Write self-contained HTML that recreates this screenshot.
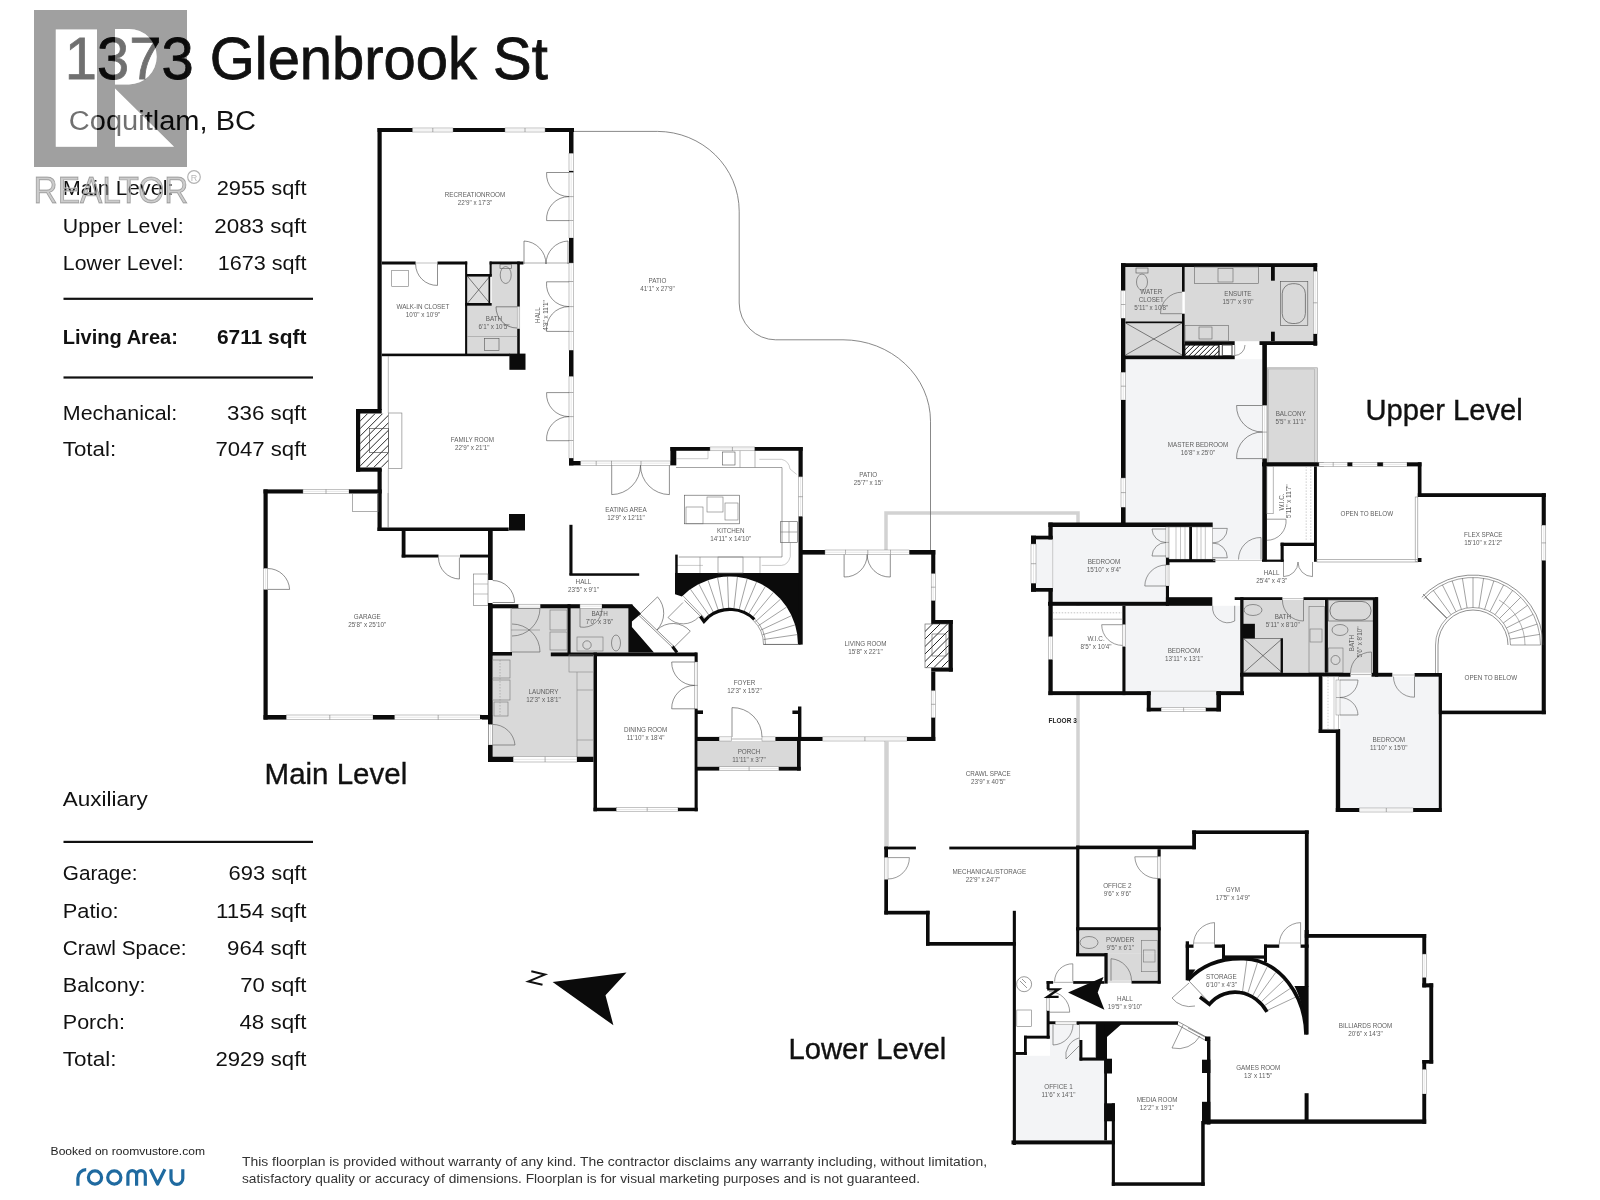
<!DOCTYPE html>
<html><head><meta charset="utf-8"><style>
html,body{margin:0;padding:0;background:#fff;width:1600px;height:1200px;overflow:hidden}
svg{display:block;will-change:transform} text{font-family:'Liberation Sans',sans-serif}
</style></head><body>
<svg width="1600" height="1200" viewBox="0 0 1600 1200">
<rect width="1600" height="1200" fill="#fff"/>
<path d="M886,846 V513 H1078 V846" fill="none" stroke="#d2d2d2" stroke-width="3.5"/>
<path d="M574,131.4 H657.5 A82,80 0 0 1 739.2,211.2 V303 A36.6,36.8 0 0 0 775.6,339.8 H843 A87.5,81.4 0 0 1 930.5,421.2 V551" stroke="#6a6a6a" stroke-width="0.8" fill="none"/>
<rect x="801.0" y="554.0" width="131.0" height="183.0" fill="#fff"/>
<path d="M675,573.1 H800.6 V644.5 H798 A68,68 0 0 0 681.9,596.4 L675,594.2 Z" fill="#0b0b0b"/>
<rect x="377.5" y="128.0" width="196.5" height="4.0" fill="#0b0b0b"/>
<rect x="412.5" y="128.0" width="40.5" height="4.0" fill="#fff" stroke="#7a7a7a" stroke-width="0.45"/>
<line x1="412.5" y1="130.0" x2="453.0" y2="130.0" stroke="#c4c4c4" stroke-width="0.4"/>
<line x1="432.8" y1="128.0" x2="432.8" y2="132.0" stroke="#666" stroke-width="0.5"/>
<rect x="505.0" y="128.0" width="40.0" height="4.0" fill="#fff" stroke="#7a7a7a" stroke-width="0.45"/>
<line x1="505.0" y1="130.0" x2="545.0" y2="130.0" stroke="#c4c4c4" stroke-width="0.4"/>
<line x1="525.0" y1="128.0" x2="525.0" y2="132.0" stroke="#666" stroke-width="0.5"/>
<rect x="377.5" y="128.0" width="4.2" height="282.0" fill="#0b0b0b"/>
<rect x="377.5" y="469.0" width="4.2" height="62.0" fill="#0b0b0b"/>
<rect x="569.0" y="128.0" width="4.5" height="25.5" fill="#0b0b0b"/>
<rect x="569.0" y="153.5" width="4.5" height="17.5" fill="#fff" stroke="#7a7a7a" stroke-width="0.45"/>
<line x1="571.2" y1="153.5" x2="571.2" y2="171.0" stroke="#c4c4c4" stroke-width="0.4"/>
<rect x="569.0" y="171.0" width="4.5" height="1.5" fill="#0b0b0b"/>
<rect x="569.0" y="172.5" width="4.5" height="48.1" fill="#fff" stroke="#7a7a7a" stroke-width="0.45"/>
<line x1="571.2" y1="172.5" x2="571.2" y2="220.6" stroke="#c4c4c4" stroke-width="0.4"/>
<line x1="569.0" y1="196.6" x2="573.5" y2="196.6" stroke="#666" stroke-width="0.5"/>
<rect x="569.0" y="220.6" width="4.5" height="17.4" fill="#fff" stroke="#7a7a7a" stroke-width="0.45"/>
<line x1="571.2" y1="220.6" x2="571.2" y2="238.0" stroke="#c4c4c4" stroke-width="0.4"/>
<rect x="569.0" y="238.0" width="4.5" height="25.0" fill="#0b0b0b"/>
<rect x="569.0" y="263.0" width="4.5" height="18.8" fill="#fff" stroke="#7a7a7a" stroke-width="0.45"/>
<line x1="571.2" y1="263.0" x2="571.2" y2="281.8" stroke="#c4c4c4" stroke-width="0.4"/>
<rect x="569.0" y="281.8" width="4.5" height="49.6" fill="#fff" stroke="#7a7a7a" stroke-width="0.45"/>
<line x1="571.2" y1="281.8" x2="571.2" y2="331.4" stroke="#c4c4c4" stroke-width="0.4"/>
<line x1="569.0" y1="306.6" x2="573.5" y2="306.6" stroke="#666" stroke-width="0.5"/>
<rect x="569.0" y="331.4" width="4.5" height="18.9" fill="#fff" stroke="#7a7a7a" stroke-width="0.45"/>
<line x1="571.2" y1="331.4" x2="571.2" y2="350.3" stroke="#c4c4c4" stroke-width="0.4"/>
<rect x="569.0" y="350.3" width="4.5" height="26.3" fill="#0b0b0b"/>
<rect x="569.0" y="376.6" width="4.5" height="16.0" fill="#fff" stroke="#7a7a7a" stroke-width="0.45"/>
<line x1="571.2" y1="376.6" x2="571.2" y2="392.6" stroke="#c4c4c4" stroke-width="0.4"/>
<rect x="569.0" y="392.6" width="4.5" height="48.1" fill="#fff" stroke="#7a7a7a" stroke-width="0.45"/>
<line x1="571.2" y1="392.6" x2="571.2" y2="440.7" stroke="#c4c4c4" stroke-width="0.4"/>
<line x1="569.0" y1="416.6" x2="573.5" y2="416.6" stroke="#666" stroke-width="0.5"/>
<rect x="569.0" y="440.7" width="4.5" height="17.5" fill="#fff" stroke="#7a7a7a" stroke-width="0.45"/>
<line x1="571.2" y1="440.7" x2="571.2" y2="458.2" stroke="#c4c4c4" stroke-width="0.4"/>
<rect x="569.0" y="458.2" width="4.5" height="7.2" fill="#0b0b0b"/>
<path d="M569.0,172.5 L546.6,172.5 A22.4,22.4 0 0 0 569.0,196.6" stroke="#444" stroke-width="0.6" fill="none"/>
<path d="M569.0,220.6 L546.6,220.6 A22.4,22.4 0 0 1 569.0,196.6" stroke="#444" stroke-width="0.6" fill="none"/>
<path d="M569.0,281.8 L546.6,281.8 A22.4,22.4 0 0 0 569.0,306.6" stroke="#444" stroke-width="0.6" fill="none"/>
<path d="M569.0,331.4 L546.6,331.4 A22.4,22.4 0 0 1 569.0,306.6" stroke="#444" stroke-width="0.6" fill="none"/>
<path d="M569.0,392.6 L546.6,392.6 A22.4,22.4 0 0 0 569.0,416.6" stroke="#444" stroke-width="0.6" fill="none"/>
<path d="M569.0,440.7 L546.6,440.7 A22.4,22.4 0 0 1 569.0,416.6" stroke="#444" stroke-width="0.6" fill="none"/>
<rect x="381.8" y="261.5" width="33.8" height="3.0" fill="#0b0b0b"/>
<line x1="415.6" y1="263.0" x2="437.5" y2="263.0" stroke="#999" stroke-width="0.6"/>
<rect x="437.5" y="261.5" width="29.7" height="3.0" fill="#0b0b0b"/>
<rect x="489.6" y="261.5" width="33.8" height="3.0" fill="#0b0b0b"/>
<line x1="523.4" y1="263.0" x2="569.0" y2="263.0" stroke="#777" stroke-width="0.6"/>
<path d="M524.0,264.0 L524.0,241.0 A23.0,23.0 0 0 1 546.0,264.0" stroke="#444" stroke-width="0.6" fill="none"/>
<path d="M568.0,264.0 L568.0,241.0 A23.0,23.0 0 0 0 546.0,264.0" stroke="#444" stroke-width="0.6" fill="none"/>
<rect x="391.7" y="270.3" width="16.8" height="16.4" fill="none" stroke="#777" stroke-width="0.6"/>
<path d="M437.5,264.0 L437.5,285.4 A21.4,21.4 0 0 1 415.6,264.0" stroke="#444" stroke-width="0.6" fill="none"/>
<rect x="491.7" y="264.5" width="25.5" height="89.1" fill="#d9d9d9"/>
<rect x="467.2" y="305.7" width="50.0" height="47.9" fill="#d9d9d9"/>
<rect x="467.2" y="276.6" width="22.4" height="26.4" fill="#dedede"/>
<line x1="467.7" y1="276.6" x2="489.6" y2="303.0" stroke="#333" stroke-width="0.6"/>
<line x1="489.6" y1="276.6" x2="467.7" y2="303.0" stroke="#333" stroke-width="0.6"/>
<rect x="465.1" y="261.5" width="2.1" height="92.5" fill="#0b0b0b"/>
<rect x="467.0" y="274.0" width="24.7" height="2.6" fill="#0b0b0b"/>
<rect x="489.6" y="261.5" width="2.1" height="15.1" fill="#0b0b0b"/>
<rect x="488.5" y="276.0" width="1.7" height="29.0" fill="#0b0b0b"/>
<rect x="465.0" y="303.0" width="26.7" height="2.7" fill="#0b0b0b"/>
<rect x="517.2" y="261.5" width="2.6" height="45.3" fill="#0b0b0b"/>
<rect x="517.2" y="328.6" width="2.6" height="25.4" fill="#0b0b0b"/>
<rect x="517.2" y="306.8" width="2.6" height="21.8" fill="#fff" stroke="#7a7a7a" stroke-width="0.45"/>
<line x1="518.5" y1="306.8" x2="518.5" y2="328.6" stroke="#c4c4c4" stroke-width="0.4"/>
<path d="M517.0,306.8 L496.0,306.8 A21.0,21.0 0 0 0 517.0,328.0" stroke="#444" stroke-width="0.6" fill="none"/>
<ellipse cx="505.7" cy="275" rx="5.5" ry="8.5" fill="none" stroke="#555" stroke-width="0.6"/>
<rect x="500.0" y="264.5" width="11.5" height="4.0" fill="none" stroke="#555" stroke-width="0.6"/>
<line x1="467.2" y1="336.5" x2="517.2" y2="336.5" stroke="#999" stroke-width="0.6"/>
<rect x="484.4" y="338.5" width="14.6" height="12.0" fill="none" stroke="#555" stroke-width="0.6"/>
<rect x="381.8" y="353.6" width="128.1" height="2.6" fill="#0b0b0b"/>
<rect x="509.4" y="353.6" width="16.1" height="16.2" fill="#0b0b0b"/>
<text x="540.3" y="315.0" font-size="6.3" fill="#5e5e5e" text-anchor="middle" font-weight="normal" transform="rotate(-90 540.3 315.0)">HALL</text>
<text x="548.2" y="315.5" font-size="6.3" fill="#5e5e5e" text-anchor="middle" font-weight="normal" transform="rotate(-90 548.2 315.5)">4'9&quot; x 11'1&quot;</text>
<rect x="356.0" y="409.0" width="25.7" height="4.5" fill="#0b0b0b"/>
<rect x="356.0" y="409.0" width="4.2" height="62.7" fill="#0b0b0b"/>
<rect x="356.0" y="467.5" width="25.7" height="4.2" fill="#0b0b0b"/>
<clipPath id="c80"><rect x="360.2" y="413.5" width="28.30000000000001" height="54.0"/></clipPath><g clip-path="url(#c80)">
<line x1="306.2" y1="467.5" x2="360.2" y2="413.5" stroke="#111" stroke-width="0.9"/>
<line x1="313.7" y1="467.5" x2="367.7" y2="413.5" stroke="#111" stroke-width="0.9"/>
<line x1="321.2" y1="467.5" x2="375.2" y2="413.5" stroke="#111" stroke-width="0.9"/>
<line x1="328.7" y1="467.5" x2="382.7" y2="413.5" stroke="#111" stroke-width="0.9"/>
<line x1="336.2" y1="467.5" x2="390.2" y2="413.5" stroke="#111" stroke-width="0.9"/>
<line x1="343.7" y1="467.5" x2="397.7" y2="413.5" stroke="#111" stroke-width="0.9"/>
<line x1="351.2" y1="467.5" x2="405.2" y2="413.5" stroke="#111" stroke-width="0.9"/>
<line x1="358.7" y1="467.5" x2="412.7" y2="413.5" stroke="#111" stroke-width="0.9"/>
<line x1="366.2" y1="467.5" x2="420.2" y2="413.5" stroke="#111" stroke-width="0.9"/>
<line x1="373.7" y1="467.5" x2="427.7" y2="413.5" stroke="#111" stroke-width="0.9"/>
<line x1="381.2" y1="467.5" x2="435.2" y2="413.5" stroke="#111" stroke-width="0.9"/>
</g>
<rect x="388.5" y="413.0" width="13.4" height="55.5" fill="none" stroke="#777" stroke-width="0.6"/>
<rect x="369.6" y="428.5" width="18.9" height="24.0" fill="none" stroke="#333" stroke-width="0.6"/>
<line x1="388.3" y1="356.0" x2="388.3" y2="413.0" stroke="#888" stroke-width="0.6"/>
<line x1="388.3" y1="468.5" x2="388.3" y2="527.5" stroke="#888" stroke-width="0.6"/>
<rect x="377.5" y="527.5" width="131.2" height="3.5" fill="#0b0b0b"/>
<rect x="509.0" y="514.0" width="16.0" height="16.5" fill="#0b0b0b"/>
<rect x="569.0" y="461.0" width="11.8" height="4.4" fill="#0b0b0b"/>
<rect x="580.8" y="461.0" width="30.9" height="4.4" fill="#fff" stroke="#7a7a7a" stroke-width="0.45"/>
<line x1="580.8" y1="463.2" x2="611.7" y2="463.2" stroke="#c4c4c4" stroke-width="0.4"/>
<line x1="596.2" y1="461.0" x2="596.2" y2="465.4" stroke="#666" stroke-width="0.5"/>
<rect x="611.7" y="461.0" width="58.7" height="4.4" fill="#fff" stroke="#7a7a7a" stroke-width="0.45"/>
<line x1="611.7" y1="463.2" x2="670.4" y2="463.2" stroke="#c4c4c4" stroke-width="0.4"/>
<line x1="641.0" y1="461.0" x2="641.0" y2="465.4" stroke="#666" stroke-width="0.5"/>
<path d="M611.7,465.4 L611.7,494.6 A29.2,29.2 0 0 0 640.5,465.4" stroke="#444" stroke-width="0.6" fill="none"/>
<path d="M669.4,465.4 L669.4,494.6 A29.2,29.2 0 0 1 640.5,465.4" stroke="#444" stroke-width="0.6" fill="none"/>
<rect x="569.4" y="524.8" width="3.1" height="50.0" fill="#0b0b0b"/>
<rect x="569.4" y="573.3" width="69.8" height="2.5" fill="#0b0b0b"/>
<rect x="263.5" y="489.4" width="39.5" height="4.1" fill="#0b0b0b"/>
<rect x="303.0" y="489.4" width="46.0" height="4.1" fill="#fff" stroke="#7a7a7a" stroke-width="0.45"/>
<line x1="303.0" y1="491.4" x2="349.0" y2="491.4" stroke="#c4c4c4" stroke-width="0.4"/>
<line x1="326.0" y1="489.4" x2="326.0" y2="493.5" stroke="#666" stroke-width="0.5"/>
<rect x="349.0" y="489.4" width="32.7" height="4.1" fill="#0b0b0b"/>
<rect x="352.7" y="493.5" width="25.3" height="18.2" fill="none" stroke="#777" stroke-width="0.6"/>
<line x1="388.0" y1="493.0" x2="388.0" y2="527.5" stroke="#888" stroke-width="0.6"/>
<rect x="263.5" y="489.4" width="4.2" height="79.1" fill="#0b0b0b"/>
<rect x="263.5" y="589.4" width="4.2" height="130.2" fill="#0b0b0b"/>
<rect x="263.5" y="568.5" width="4.2" height="20.9" fill="#fff" stroke="#7a7a7a" stroke-width="0.45"/>
<line x1="265.6" y1="568.5" x2="265.6" y2="589.4" stroke="#c4c4c4" stroke-width="0.4"/>
<path d="M267.7,589.4 L289.6,589.4 A21.9,21.9 0 0 0 267.7,568.5" stroke="#444" stroke-width="0.6" fill="none"/>
<rect x="263.5" y="715.0" width="23.0" height="4.6" fill="#0b0b0b"/>
<rect x="286.5" y="715.0" width="86.5" height="4.6" fill="#fff" stroke="#7a7a7a" stroke-width="0.45"/>
<line x1="286.5" y1="717.3" x2="373.0" y2="717.3" stroke="#c4c4c4" stroke-width="0.4"/>
<line x1="329.8" y1="715.0" x2="329.8" y2="719.6" stroke="#666" stroke-width="0.5"/>
<rect x="373.0" y="715.0" width="21.8" height="4.6" fill="#0b0b0b"/>
<rect x="394.8" y="715.0" width="86.9" height="4.6" fill="#fff" stroke="#7a7a7a" stroke-width="0.45"/>
<line x1="394.8" y1="717.3" x2="481.7" y2="717.3" stroke="#c4c4c4" stroke-width="0.4"/>
<line x1="438.2" y1="715.0" x2="438.2" y2="719.6" stroke="#666" stroke-width="0.5"/>
<rect x="481.7" y="715.0" width="10.8" height="4.6" fill="#0b0b0b"/>
<rect x="401.7" y="531.0" width="3.8" height="26.5" fill="#0b0b0b"/>
<rect x="401.7" y="554.6" width="36.8" height="2.9" fill="#0b0b0b"/>
<rect x="460.0" y="554.6" width="28.5" height="2.9" fill="#0b0b0b"/>
<line x1="438.5" y1="556.0" x2="460.0" y2="556.0" stroke="#999" stroke-width="0.6"/>
<path d="M459.4,557.5 L459.4,579.0 A21.5,21.5 0 0 1 438.5,557.5" stroke="#444" stroke-width="0.6" fill="none"/>
<rect x="488.0" y="531.0" width="4.7" height="49.0" fill="#0b0b0b"/>
<rect x="473.5" y="574.0" width="14.5" height="31.6" fill="none" stroke="#777" stroke-width="0.6"/>
<line x1="473.5" y1="584.0" x2="488.0" y2="584.0" stroke="#999" stroke-width="0.6"/>
<line x1="473.5" y1="594.0" x2="488.0" y2="594.0" stroke="#999" stroke-width="0.6"/>
<path d="M492.7,602.5 L514.5,602.5 A21.8,21.8 0 0 0 492.7,580.5" stroke="#444" stroke-width="0.6" fill="none"/>
<rect x="488.0" y="603.0" width="4.5" height="159.0" fill="#0b0b0b"/>
<rect x="511.0" y="608.3" width="82.5" height="148.4" fill="#d9d9d9"/>
<rect x="492.5" y="655.6" width="18.5" height="101.1" fill="#d9d9d9"/>
<rect x="570.6" y="608.3" width="58.4" height="44.2" fill="#d9d9d9"/>
<rect x="488.3" y="604.2" width="30.2" height="4.1" fill="#0b0b0b"/>
<rect x="518.5" y="604.2" width="21.9" height="4.1" fill="#fff" stroke="#7a7a7a" stroke-width="0.45"/>
<line x1="518.5" y1="606.2" x2="540.4" y2="606.2" stroke="#c4c4c4" stroke-width="0.4"/>
<rect x="540.4" y="604.2" width="39.6" height="4.1" fill="#0b0b0b"/>
<rect x="580.0" y="604.2" width="22.0" height="4.1" fill="#fff" stroke="#7a7a7a" stroke-width="0.45"/>
<line x1="580.0" y1="606.2" x2="602.0" y2="606.2" stroke="#c4c4c4" stroke-width="0.4"/>
<rect x="602.0" y="604.2" width="30.5" height="4.1" fill="#0b0b0b"/>
<rect x="488.3" y="604.2" width="4.2" height="120.2" fill="#0b0b0b"/>
<rect x="488.3" y="724.4" width="4.2" height="20.6" fill="#fff" stroke="#7a7a7a" stroke-width="0.45"/>
<line x1="490.4" y1="724.4" x2="490.4" y2="745.0" stroke="#c4c4c4" stroke-width="0.4"/>
<rect x="488.3" y="745.0" width="4.2" height="17.0" fill="#0b0b0b"/>
<rect x="480.0" y="715.0" width="8.3" height="4.0" fill="#0b0b0b"/>
<rect x="488.0" y="652.0" width="24.0" height="3.6" fill="#0b0b0b"/>
<line x1="511.0" y1="608.3" x2="511.0" y2="652.0" stroke="#777" stroke-width="0.6"/>
<rect x="567.5" y="604.2" width="3.1" height="50.8" fill="#0b0b0b"/>
<rect x="550.8" y="652.5" width="145.9" height="3.8" fill="#0b0b0b"/>
<rect x="488.3" y="756.7" width="25.0" height="5.3" fill="#0b0b0b"/>
<rect x="513.3" y="756.7" width="63.7" height="5.3" fill="#fff" stroke="#7a7a7a" stroke-width="0.45"/>
<line x1="513.3" y1="759.4" x2="577.0" y2="759.4" stroke="#c4c4c4" stroke-width="0.4"/>
<line x1="545.1" y1="756.7" x2="545.1" y2="762.0" stroke="#666" stroke-width="0.5"/>
<rect x="577.0" y="756.7" width="16.5" height="5.3" fill="#0b0b0b"/>
<rect x="593.5" y="652.5" width="3.5" height="158.8" fill="#0b0b0b"/>
<polygon points="628.4,605.0 632.5,605.0 641.0,613.7 631.9,621.5 631.9,627.0 654.0,652.6 628.4,652.6" fill="#0b0b0b"/>
<line x1="638.5" y1="615.0" x2="673.0" y2="648.0" stroke="#444" stroke-width="0.6"/>
<line x1="639.7" y1="613.7" x2="674.2" y2="646.7" stroke="#444" stroke-width="0.6"/>
<line x1="672.5" y1="646.5" x2="677.0" y2="652.5" stroke="#0b0b0b" stroke-width="3"/>
<rect x="550.0" y="610.0" width="17.0" height="20.0" fill="none" stroke="#777" stroke-width="0.6"/>
<rect x="550.0" y="632.0" width="17.0" height="18.0" fill="none" stroke="#777" stroke-width="0.6"/>
<line x1="511.0" y1="630.0" x2="540.0" y2="630.0" stroke="#888" stroke-width="0.6"/>
<path d="M512.0,608.3 L540.0,608.3 A28.0,28.0 0 0 1 512.0,636.0" stroke="#555" stroke-width="0.6" fill="none"/>
<path d="M512.0,652.0 L540.0,652.0 A28.0,28.0 0 0 0 512.0,624.0" stroke="#555" stroke-width="0.6" fill="none"/>
<rect x="492.5" y="660.0" width="17.5" height="18.0" fill="none" stroke="#777" stroke-width="0.6"/>
<rect x="492.5" y="680.0" width="17.5" height="20.0" fill="none" stroke="#777" stroke-width="0.6"/>
<rect x="494.0" y="702.0" width="14.0" height="14.0" fill="none" stroke="#777" stroke-width="0.6"/>
<line x1="500.0" y1="660.0" x2="500.0" y2="715.0" stroke="#888" stroke-width="0.5" stroke-dasharray="1.5,1.5"/>
<path d="M492.5,745.0 L515.0,745.0 A22.5,22.5 0 0 0 492.5,724.4" stroke="#555" stroke-width="0.6" fill="none"/>
<rect x="569.0" y="655.0" width="24.5" height="17.0" fill="none" stroke="#888" stroke-width="0.6"/>
<line x1="577.0" y1="672.0" x2="577.0" y2="756.7" stroke="#888" stroke-width="0.6"/>
<line x1="577.0" y1="690.0" x2="593.5" y2="690.0" stroke="#888" stroke-width="0.6"/>
<line x1="577.0" y1="740.0" x2="593.5" y2="740.0" stroke="#888" stroke-width="0.6"/>
<rect x="577.0" y="637.0" width="26.0" height="14.0" fill="none" stroke="#777" stroke-width="0.6"/>
<circle cx="587" cy="645" r="4.2" fill="none" stroke="#555" stroke-width="0.6"/>
<ellipse cx="616" cy="643" rx="4.5" ry="8" fill="none" stroke="#555" stroke-width="0.6"/>
<path d="M580.0,608.3 L580.0,627.0 A18.7,18.7 0 0 0 602.0,608.3" stroke="#555" stroke-width="0.6" fill="none"/>
<rect x="593.5" y="807.7" width="23.0" height="3.5" fill="#0b0b0b"/>
<rect x="616.5" y="807.7" width="61.5" height="3.5" fill="#fff" stroke="#7a7a7a" stroke-width="0.45"/>
<line x1="616.5" y1="809.5" x2="678.0" y2="809.5" stroke="#c4c4c4" stroke-width="0.4"/>
<line x1="647.2" y1="807.7" x2="647.2" y2="811.2" stroke="#666" stroke-width="0.5"/>
<rect x="678.0" y="807.7" width="19.7" height="3.5" fill="#0b0b0b"/>
<rect x="694.6" y="652.5" width="3.1" height="9.5" fill="#0b0b0b"/>
<rect x="694.6" y="662.0" width="3.1" height="46.8" fill="#fff" stroke="#7a7a7a" stroke-width="0.45"/>
<line x1="696.2" y1="662.0" x2="696.2" y2="708.8" stroke="#c4c4c4" stroke-width="0.4"/>
<line x1="694.6" y1="685.4" x2="697.7" y2="685.4" stroke="#666" stroke-width="0.5"/>
<rect x="694.6" y="708.8" width="3.1" height="102.5" fill="#0b0b0b"/>
<rect x="697.0" y="710.4" width="6.0" height="3.6" fill="#0b0b0b"/>
<path d="M694.6,662.0 L671.7,662.0 A22.9,22.9 0 0 0 694.6,685.4" stroke="#444" stroke-width="0.6" fill="none"/>
<path d="M694.6,708.8 L671.7,708.8 A22.9,22.9 0 0 1 694.6,685.4" stroke="#444" stroke-width="0.6" fill="none"/>
<rect x="670.4" y="447.0" width="5.9" height="18.4" fill="#0b0b0b"/>
<rect x="670.4" y="447.0" width="39.6" height="3.8" fill="#0b0b0b"/>
<rect x="710.0" y="447.0" width="44.8" height="3.8" fill="#fff" stroke="#7a7a7a" stroke-width="0.45"/>
<line x1="710.0" y1="448.9" x2="754.8" y2="448.9" stroke="#c4c4c4" stroke-width="0.4"/>
<line x1="732.4" y1="447.0" x2="732.4" y2="450.8" stroke="#666" stroke-width="0.5"/>
<rect x="754.8" y="447.0" width="47.9" height="3.8" fill="#0b0b0b"/>
<rect x="798.5" y="447.0" width="4.2" height="29.9" fill="#0b0b0b"/>
<rect x="798.5" y="476.9" width="4.2" height="39.6" fill="#fff" stroke="#7a7a7a" stroke-width="0.45"/>
<line x1="800.6" y1="476.9" x2="800.6" y2="516.5" stroke="#c4c4c4" stroke-width="0.4"/>
<line x1="798.5" y1="496.7" x2="802.7" y2="496.7" stroke="#666" stroke-width="0.5"/>
<rect x="798.5" y="516.5" width="4.2" height="128.1" fill="#0b0b0b"/>
<line x1="676.0" y1="467.5" x2="782.0" y2="467.5" stroke="#666" stroke-width="0.6"/>
<line x1="782.0" y1="467.5" x2="782.0" y2="557.0" stroke="#666" stroke-width="0.6"/>
<line x1="678.8" y1="557.0" x2="782.0" y2="557.0" stroke="#666" stroke-width="0.6"/>
<path d="M676,458.7 H708 V451" stroke="#999" stroke-width="0.5" fill="none"/>
<path d="M759.3,459.3 H781.5 Q789,461 790,469 L796.7,474.4" stroke="#999" stroke-width="0.5" fill="none"/>
<path d="M790.3,542.7 V556.7 Q788,565 781.5,565.4 H761.7" stroke="#999" stroke-width="0.5" fill="none"/>
<path d="M677,565.4 H703" stroke="#999" stroke-width="0.5" fill="none"/>
<rect x="722.5" y="452.0" width="12.5" height="13.0" fill="none" stroke="#555" stroke-width="0.6"/>
<line x1="740.0" y1="450.8" x2="740.0" y2="467.5" stroke="#888" stroke-width="0.6"/>
<line x1="755.0" y1="450.8" x2="755.0" y2="467.5" stroke="#888" stroke-width="0.6"/>
<rect x="684.4" y="495.2" width="55.2" height="28.6" fill="none" stroke="#555" stroke-width="0.6"/>
<rect x="686.0" y="507.0" width="17.0" height="16.8" fill="none" stroke="#777" stroke-width="0.6"/>
<rect x="707.0" y="497.0" width="16.0" height="15.0" fill="none" stroke="#777" stroke-width="0.6"/>
<rect x="725.0" y="503.0" width="13.0" height="17.0" fill="none" stroke="#777" stroke-width="0.6"/>
<rect x="780.4" y="521.7" width="17.1" height="20.8" fill="none" stroke="#555" stroke-width="0.6"/>
<line x1="780.4" y1="532.0" x2="797.5" y2="532.0" stroke="#777" stroke-width="0.6"/>
<line x1="789.0" y1="521.7" x2="789.0" y2="542.5" stroke="#777" stroke-width="0.6"/>
<rect x="718.0" y="557.0" width="25.0" height="16.0" fill="none" stroke="#777" stroke-width="0.6"/>
<line x1="700.0" y1="557.0" x2="700.0" y2="573.0" stroke="#888" stroke-width="0.6"/>
<line x1="760.0" y1="557.0" x2="760.0" y2="573.0" stroke="#888" stroke-width="0.6"/>
<rect x="675.2" y="554.6" width="2.5" height="19.1" fill="#0b0b0b"/>
<line x1="706.4" y1="620.0" x2="682.8" y2="595.6" stroke="#444" stroke-width="0.5"/>
<line x1="710.2" y1="616.9" x2="690.4" y2="589.2" stroke="#444" stroke-width="0.5"/>
<line x1="714.4" y1="614.3" x2="698.9" y2="584.0" stroke="#444" stroke-width="0.5"/>
<line x1="719.0" y1="612.3" x2="708.0" y2="580.2" stroke="#444" stroke-width="0.5"/>
<line x1="723.8" y1="611.1" x2="717.6" y2="577.6" stroke="#444" stroke-width="0.5"/>
<line x1="728.7" y1="610.5" x2="727.5" y2="576.5" stroke="#444" stroke-width="0.5"/>
<line x1="733.7" y1="610.7" x2="737.4" y2="576.9" stroke="#444" stroke-width="0.5"/>
<line x1="738.6" y1="611.6" x2="747.2" y2="578.7" stroke="#444" stroke-width="0.5"/>
<line x1="743.3" y1="613.2" x2="756.6" y2="581.9" stroke="#444" stroke-width="0.5"/>
<line x1="747.7" y1="615.5" x2="765.4" y2="586.4" stroke="#444" stroke-width="0.5"/>
<line x1="751.7" y1="618.4" x2="773.5" y2="592.2" stroke="#444" stroke-width="0.5"/>
<line x1="755.3" y1="621.8" x2="780.6" y2="599.1" stroke="#444" stroke-width="0.5"/>
<line x1="758.4" y1="625.7" x2="786.7" y2="607.0" stroke="#444" stroke-width="0.5"/>
<line x1="760.8" y1="630.1" x2="791.6" y2="615.6" stroke="#444" stroke-width="0.5"/>
<line x1="762.6" y1="634.7" x2="795.1" y2="624.9" stroke="#444" stroke-width="0.5"/>
<line x1="763.6" y1="639.5" x2="797.3" y2="634.6" stroke="#444" stroke-width="0.5"/>
<line x1="764.0" y1="644.5" x2="798.0" y2="644.5" stroke="#444" stroke-width="0.5"/>
<path d="M708.9,616.5 A35,35 0 0 1 754.3,619.3" stroke="#0b0b0b" stroke-width="3.2" fill="none"/>
<path d="M753.3,620.4 A33.5,33.5 0 0 1 763.5,644.5" stroke="#444" stroke-width="0.5" fill="none"/>
<path d="M754.7,619.0 A35.5,35.5 0 0 1 765.5,644.5" stroke="#444" stroke-width="0.5" fill="none"/>
<path d="M700.3,616.2 L704,621.4 L708.9,616.4" stroke="#0b0b0b" stroke-width="3.2" fill="none"/>
<line x1="763.0" y1="644.4" x2="798.0" y2="644.4" stroke="#444" stroke-width="0.5"/>
<line x1="684.4" y1="600.3" x2="700.3" y2="616.2" stroke="#444" stroke-width="0.6"/>
<rect x="697.7" y="741.0" width="99.3" height="26.0" fill="#d9d9d9"/>
<rect x="697.0" y="736.9" width="22.2" height="4.1" fill="#0b0b0b"/>
<rect x="719.2" y="736.9" width="12.4" height="4.1" fill="#fff" stroke="#7a7a7a" stroke-width="0.45"/>
<line x1="719.2" y1="739.0" x2="731.6" y2="739.0" stroke="#c4c4c4" stroke-width="0.4"/>
<line x1="731.6" y1="739.0" x2="762.0" y2="739.0" stroke="#888" stroke-width="0.6"/>
<rect x="762.0" y="736.9" width="13.5" height="4.1" fill="#fff" stroke="#7a7a7a" stroke-width="0.45"/>
<line x1="762.0" y1="739.0" x2="775.5" y2="739.0" stroke="#c4c4c4" stroke-width="0.4"/>
<rect x="775.5" y="736.9" width="25.5" height="4.1" fill="#0b0b0b"/>
<rect x="697.0" y="766.8" width="22.2" height="3.8" fill="#0b0b0b"/>
<rect x="719.2" y="766.8" width="59.6" height="3.8" fill="#fff" stroke="#7a7a7a" stroke-width="0.45"/>
<line x1="719.2" y1="768.7" x2="778.9" y2="768.7" stroke="#c4c4c4" stroke-width="0.4"/>
<line x1="749.1" y1="766.8" x2="749.1" y2="770.6" stroke="#666" stroke-width="0.5"/>
<rect x="778.9" y="766.8" width="21.8" height="3.8" fill="#0b0b0b"/>
<rect x="797.0" y="737.0" width="3.7" height="33.6" fill="#0b0b0b"/>
<path d="M732.0,737.0 L732.0,707.6 A29.4,29.4 0 0 1 762.0,737.0" stroke="#444" stroke-width="0.6" fill="none"/>
<rect x="798.0" y="706.5" width="3.4" height="34.5" fill="#0b0b0b"/>
<rect x="792.4" y="710.5" width="5.6" height="3.5" fill="#0b0b0b"/>
<path d="M640.0,613.8 L657.5,596.9 A24.3,24.3 0 0 1 656.9,630.0" stroke="#444" stroke-width="0.6" fill="none"/>
<path d="M673.8,647.5 L690.3,631.2 A23.2,23.2 0 0 0 656.9,630.0" stroke="#444" stroke-width="0.6" fill="none"/>
<path d="M683.0,602.5 L668.0,617.5 A21.2,21.2 0 0 0 698.8,616.9" stroke="#555" stroke-width="0.6" fill="none"/>
<rect x="801.0" y="550.0" width="24.0" height="4.6" fill="#0b0b0b"/>
<rect x="825.0" y="550.0" width="20.3" height="4.6" fill="#fff" stroke="#7a7a7a" stroke-width="0.45"/>
<line x1="825.0" y1="552.3" x2="845.3" y2="552.3" stroke="#c4c4c4" stroke-width="0.4"/>
<rect x="845.3" y="550.0" width="45.0" height="4.6" fill="#fff" stroke="#7a7a7a" stroke-width="0.45"/>
<line x1="845.3" y1="552.3" x2="890.3" y2="552.3" stroke="#c4c4c4" stroke-width="0.4"/>
<line x1="867.8" y1="550.0" x2="867.8" y2="554.6" stroke="#666" stroke-width="0.5"/>
<rect x="890.3" y="550.0" width="19.1" height="4.6" fill="#fff" stroke="#7a7a7a" stroke-width="0.45"/>
<line x1="890.3" y1="552.3" x2="909.4" y2="552.3" stroke="#c4c4c4" stroke-width="0.4"/>
<rect x="909.4" y="550.0" width="25.9" height="4.6" fill="#0b0b0b"/>
<path d="M844.1,554.6 L844.1,577.0 A22.4,22.4 0 0 0 867.2,554.6" stroke="#444" stroke-width="0.6" fill="none"/>
<path d="M890.3,554.6 L890.3,577.0 A22.4,22.4 0 0 1 867.2,554.6" stroke="#444" stroke-width="0.6" fill="none"/>
<rect x="931.2" y="550.0" width="4.1" height="23.8" fill="#0b0b0b"/>
<rect x="931.2" y="573.8" width="4.1" height="27.0" fill="#fff" stroke="#7a7a7a" stroke-width="0.45"/>
<line x1="933.2" y1="573.8" x2="933.2" y2="600.8" stroke="#c4c4c4" stroke-width="0.4"/>
<line x1="931.2" y1="587.2" x2="935.3" y2="587.2" stroke="#666" stroke-width="0.5"/>
<rect x="931.2" y="600.8" width="4.1" height="19.2" fill="#0b0b0b"/>
<rect x="931.2" y="620.0" width="21.6" height="4.0" fill="#0b0b0b"/>
<rect x="948.8" y="620.0" width="4.0" height="51.6" fill="#0b0b0b"/>
<rect x="931.2" y="667.8" width="21.6" height="3.8" fill="#0b0b0b"/>
<clipPath id="c296"><rect x="925" y="624" width="23.799999999999955" height="43.799999999999955"/></clipPath><g clip-path="url(#c296)">
<line x1="881.2" y1="667.8" x2="925.0" y2="624.0" stroke="#111" stroke-width="0.9"/>
<line x1="888.7" y1="667.8" x2="932.5" y2="624.0" stroke="#111" stroke-width="0.9"/>
<line x1="896.2" y1="667.8" x2="940.0" y2="624.0" stroke="#111" stroke-width="0.9"/>
<line x1="903.7" y1="667.8" x2="947.5" y2="624.0" stroke="#111" stroke-width="0.9"/>
<line x1="911.2" y1="667.8" x2="955.0" y2="624.0" stroke="#111" stroke-width="0.9"/>
<line x1="918.7" y1="667.8" x2="962.5" y2="624.0" stroke="#111" stroke-width="0.9"/>
<line x1="926.2" y1="667.8" x2="970.0" y2="624.0" stroke="#111" stroke-width="0.9"/>
<line x1="933.7" y1="667.8" x2="977.5" y2="624.0" stroke="#111" stroke-width="0.9"/>
<line x1="941.2" y1="667.8" x2="985.0" y2="624.0" stroke="#111" stroke-width="0.9"/>
<line x1="948.7" y1="667.8" x2="992.5" y2="624.0" stroke="#111" stroke-width="0.9"/>
</g>
<rect x="925.0" y="624.0" width="23.8" height="43.8" fill="none" stroke="#555" stroke-width="0.6"/>
<rect x="932.0" y="634.0" width="14.0" height="22.0" fill="none" stroke="#555" stroke-width="0.6"/>
<rect x="931.2" y="671.6" width="4.1" height="19.2" fill="#0b0b0b"/>
<rect x="931.2" y="690.8" width="4.1" height="27.0" fill="#fff" stroke="#7a7a7a" stroke-width="0.45"/>
<line x1="933.2" y1="690.8" x2="933.2" y2="717.8" stroke="#c4c4c4" stroke-width="0.4"/>
<line x1="931.2" y1="704.3" x2="935.3" y2="704.3" stroke="#666" stroke-width="0.5"/>
<rect x="931.2" y="717.8" width="4.1" height="23.2" fill="#0b0b0b"/>
<rect x="800.2" y="736.9" width="22.5" height="4.1" fill="#0b0b0b"/>
<rect x="822.8" y="736.9" width="84.2" height="4.1" fill="#fff" stroke="#7a7a7a" stroke-width="0.45"/>
<line x1="822.8" y1="739.0" x2="907.0" y2="739.0" stroke="#c4c4c4" stroke-width="0.4"/>
<line x1="864.9" y1="736.9" x2="864.9" y2="741.0" stroke="#666" stroke-width="0.5"/>
<rect x="907.0" y="736.9" width="28.3" height="4.1" fill="#0b0b0b"/>
<line x1="887.0" y1="741.0" x2="887.0" y2="846.0" stroke="#d2d2d2" stroke-width="3.5"/>
<text x="475.0" y="196.8" font-size="6.3" fill="#5e5e5e" text-anchor="middle" font-weight="normal">RECREATIONROOM</text>
<text x="475.0" y="204.8" font-size="6.3" fill="#5e5e5e" text-anchor="middle" font-weight="normal">22'9&quot; x 17'3&quot;</text>
<text x="422.9" y="309.0" font-size="6.3" fill="#5e5e5e" text-anchor="middle" font-weight="normal">WALK-IN CLOSET</text>
<text x="422.9" y="317.0" font-size="6.3" fill="#5e5e5e" text-anchor="middle" font-weight="normal">10'0&quot; x 10'9&quot;</text>
<text x="494.0" y="320.5" font-size="6.3" fill="#5e5e5e" text-anchor="middle" font-weight="normal">BATH</text>
<text x="494.0" y="328.5" font-size="6.3" fill="#5e5e5e" text-anchor="middle" font-weight="normal">6'1&quot; x 10'5&quot;</text>
<text x="472.3" y="442.0" font-size="6.3" fill="#5e5e5e" text-anchor="middle" font-weight="normal">FAMILY ROOM</text>
<text x="472.3" y="450.0" font-size="6.3" fill="#5e5e5e" text-anchor="middle" font-weight="normal">22'9&quot; x 21'1&quot;</text>
<text x="367.3" y="618.5" font-size="6.3" fill="#5e5e5e" text-anchor="middle" font-weight="normal">GARAGE</text>
<text x="367.3" y="626.5" font-size="6.3" fill="#5e5e5e" text-anchor="middle" font-weight="normal">25'8&quot; x 25'10&quot;</text>
<text x="626.0" y="512.0" font-size="6.3" fill="#5e5e5e" text-anchor="middle" font-weight="normal">EATING AREA</text>
<text x="626.0" y="520.0" font-size="6.3" fill="#5e5e5e" text-anchor="middle" font-weight="normal">12'9&quot; x 12'11&quot;</text>
<text x="730.8" y="532.6" font-size="6.3" fill="#5e5e5e" text-anchor="middle" font-weight="normal">KITCHEN</text>
<text x="730.8" y="540.6" font-size="6.3" fill="#5e5e5e" text-anchor="middle" font-weight="normal">14'11&quot; x 14'10&quot;</text>
<text x="583.5" y="583.7" font-size="6.3" fill="#5e5e5e" text-anchor="middle" font-weight="normal">HALL</text>
<text x="583.5" y="591.7" font-size="6.3" fill="#5e5e5e" text-anchor="middle" font-weight="normal">23'5&quot; x 9'1&quot;</text>
<text x="599.6" y="616.4" font-size="6.3" fill="#5e5e5e" text-anchor="middle" font-weight="normal">BATH</text>
<text x="599.6" y="624.4" font-size="6.3" fill="#5e5e5e" text-anchor="middle" font-weight="normal">7'0&quot; x 3'6&quot;</text>
<text x="543.5" y="694.0" font-size="6.3" fill="#5e5e5e" text-anchor="middle" font-weight="normal">LAUNDRY</text>
<text x="543.5" y="702.0" font-size="6.3" fill="#5e5e5e" text-anchor="middle" font-weight="normal">12'3&quot; x 18'1&quot;</text>
<text x="645.6" y="731.6" font-size="6.3" fill="#5e5e5e" text-anchor="middle" font-weight="normal">DINING ROOM</text>
<text x="645.6" y="739.6" font-size="6.3" fill="#5e5e5e" text-anchor="middle" font-weight="normal">11'10&quot; x 18'4&quot;</text>
<text x="744.5" y="684.9" font-size="6.3" fill="#5e5e5e" text-anchor="middle" font-weight="normal">FOYER</text>
<text x="744.5" y="692.9" font-size="6.3" fill="#5e5e5e" text-anchor="middle" font-weight="normal">12'3&quot; x 15'2&quot;</text>
<text x="749.0" y="753.5" font-size="6.3" fill="#5e5e5e" text-anchor="middle" font-weight="normal">PORCH</text>
<text x="749.0" y="761.5" font-size="6.3" fill="#5e5e5e" text-anchor="middle" font-weight="normal">11'11&quot; x 3'7&quot;</text>
<text x="865.5" y="646.0" font-size="6.3" fill="#5e5e5e" text-anchor="middle" font-weight="normal">LIVING ROOM</text>
<text x="865.5" y="654.0" font-size="6.3" fill="#5e5e5e" text-anchor="middle" font-weight="normal">15'8&quot; x 22'1&quot;</text>
<text x="657.5" y="283.4" font-size="6.3" fill="#5e5e5e" text-anchor="middle" font-weight="normal">PATIO</text>
<text x="657.5" y="291.4" font-size="6.3" fill="#5e5e5e" text-anchor="middle" font-weight="normal">41'1&quot; x 27'9&quot;</text>
<text x="868.2" y="476.8" font-size="6.3" fill="#5e5e5e" text-anchor="middle" font-weight="normal">PATIO</text>
<text x="868.2" y="484.8" font-size="6.3" fill="#5e5e5e" text-anchor="middle" font-weight="normal">25'7&quot; x 15'</text>
<text x="988.2" y="775.7" font-size="6.3" fill="#5e5e5e" text-anchor="middle" font-weight="normal">CRAWL SPACE</text>
<text x="988.2" y="783.7" font-size="6.3" fill="#5e5e5e" text-anchor="middle" font-weight="normal">23'9&quot; x 40'5&quot;</text>
<rect x="1125.6" y="359.2" width="136.7" height="167.8" fill="#f3f4f6"/>
<rect x="1212.7" y="527.0" width="49.6" height="32.5" fill="#f3f4f6"/>
<rect x="1052.7" y="527.0" width="113.3" height="75.0" fill="#f3f4f6"/>
<rect x="1036.0" y="539.4" width="16.7" height="48.6" fill="#f3f4f6"/>
<rect x="1125.5" y="605.8" width="114.7" height="85.4" fill="#f3f4f6"/>
<rect x="1150.7" y="691.2" width="65.7" height="16.5" fill="#f3f4f6"/>
<rect x="1340.2" y="676.7" width="98.6" height="131.3" fill="#f3f4f6"/>
<rect x="1052.7" y="605.8" width="69.7" height="85.4" fill="#fff"/>
<rect x="1169.0" y="562.3" width="251.0" height="34.9" fill="#fff"/>
<rect x="1121.0" y="263.2" width="196.2" height="3.8" fill="#0b0b0b"/>
<rect x="1121.0" y="263.2" width="4.6" height="27.5" fill="#0b0b0b"/>
<rect x="1121.0" y="290.8" width="4.6" height="27.6" fill="#fff" stroke="#7a7a7a" stroke-width="0.45"/>
<line x1="1123.3" y1="290.8" x2="1123.3" y2="318.3" stroke="#c4c4c4" stroke-width="0.4"/>
<line x1="1121.0" y1="304.5" x2="1125.6" y2="304.5" stroke="#666" stroke-width="0.5"/>
<rect x="1121.0" y="318.3" width="4.6" height="54.1" fill="#0b0b0b"/>
<rect x="1121.0" y="372.4" width="4.6" height="27.6" fill="#fff" stroke="#7a7a7a" stroke-width="0.45"/>
<line x1="1123.3" y1="372.4" x2="1123.3" y2="400.0" stroke="#c4c4c4" stroke-width="0.4"/>
<line x1="1121.0" y1="386.2" x2="1125.6" y2="386.2" stroke="#666" stroke-width="0.5"/>
<rect x="1121.0" y="400.0" width="4.6" height="78.0" fill="#0b0b0b"/>
<rect x="1121.0" y="478.0" width="4.6" height="29.3" fill="#fff" stroke="#7a7a7a" stroke-width="0.45"/>
<line x1="1123.3" y1="478.0" x2="1123.3" y2="507.3" stroke="#c4c4c4" stroke-width="0.4"/>
<line x1="1121.0" y1="492.6" x2="1125.6" y2="492.6" stroke="#666" stroke-width="0.5"/>
<rect x="1121.0" y="507.3" width="4.6" height="19.7" fill="#0b0b0b"/>
<rect x="1125.6" y="267.0" width="56.8" height="55.0" fill="#d9d9d9"/>
<rect x="1125.6" y="322.5" width="56.4" height="33.0" fill="#d9d9d9"/>
<line x1="1125.6" y1="323.0" x2="1182.0" y2="355.0" stroke="#333" stroke-width="0.6"/>
<line x1="1182.0" y1="323.0" x2="1125.6" y2="355.0" stroke="#333" stroke-width="0.6"/>
<rect x="1125.6" y="321.5" width="56.4" height="1.7" fill="#0b0b0b"/>
<rect x="1182.0" y="267.0" width="2.8" height="24.7" fill="#0b0b0b"/>
<rect x="1182.0" y="313.7" width="2.8" height="44.0" fill="#0b0b0b"/>
<path d="M1182.0,313.7 L1160.5,313.7 A21.5,21.5 0 0 1 1182.0,292.2" stroke="#555" stroke-width="0.6" fill="none"/>
<ellipse cx="1142" cy="282" rx="5.5" ry="8" fill="none" stroke="#555" stroke-width="0.6"/>
<rect x="1136.0" y="268.0" width="12.0" height="5.0" fill="none" stroke="#555" stroke-width="0.6"/>
<rect x="1121.0" y="355.5" width="113.7" height="3.7" fill="#0b0b0b"/>
<rect x="1184.8" y="267.0" width="128.8" height="74.2" fill="#d9d9d9"/>
<rect x="1185.0" y="341.2" width="49.7" height="3.8" fill="#0b0b0b"/>
<rect x="1259.5" y="341.2" width="57.7" height="3.8" fill="#0b0b0b"/>
<rect x="1271.0" y="267.0" width="3.8" height="13.7" fill="#0b0b0b"/>
<rect x="1271.0" y="331.7" width="3.8" height="9.5" fill="#0b0b0b"/>
<rect x="1280.6" y="281.6" width="27.2" height="44.0" fill="none" stroke="#555" stroke-width="0.6"/>
<rect x="1282.2" y="283.7" width="23.2" height="39.8" rx="10" fill="none" stroke="#555" stroke-width="0.7"/>
<rect x="1313.3" y="263.2" width="3.9" height="8.2" fill="#0b0b0b"/>
<rect x="1313.3" y="271.5" width="3.9" height="62.5" fill="#fff" stroke="#7a7a7a" stroke-width="0.45"/>
<line x1="1315.2" y1="271.5" x2="1315.2" y2="334.0" stroke="#c4c4c4" stroke-width="0.4"/>
<line x1="1313.3" y1="302.8" x2="1317.2" y2="302.8" stroke="#666" stroke-width="0.5"/>
<rect x="1313.3" y="334.0" width="3.9" height="11.8" fill="#0b0b0b"/>
<rect x="1194.4" y="267.0" width="64.2" height="16.4" fill="none" stroke="#666" stroke-width="0.6"/>
<rect x="1218.0" y="268.5" width="15.0" height="13.5" fill="none" stroke="#666" stroke-width="0.6"/>
<rect x="1185.0" y="325.3" width="43.3" height="15.7" fill="none" stroke="#666" stroke-width="0.6"/>
<rect x="1199.0" y="327.0" width="13.0" height="12.0" fill="none" stroke="#666" stroke-width="0.6"/>
<clipPath id="c405"><rect x="1184.8" y="345" width="34.200000000000045" height="12.699999999999989"/></clipPath><g clip-path="url(#c405)">
<line x1="1172.1" y1="357.7" x2="1184.8" y2="345.0" stroke="#111" stroke-width="1.0"/>
<line x1="1177.1" y1="357.7" x2="1189.8" y2="345.0" stroke="#111" stroke-width="1.0"/>
<line x1="1182.1" y1="357.7" x2="1194.8" y2="345.0" stroke="#111" stroke-width="1.0"/>
<line x1="1187.1" y1="357.7" x2="1199.8" y2="345.0" stroke="#111" stroke-width="1.0"/>
<line x1="1192.1" y1="357.7" x2="1204.8" y2="345.0" stroke="#111" stroke-width="1.0"/>
<line x1="1197.1" y1="357.7" x2="1209.8" y2="345.0" stroke="#111" stroke-width="1.0"/>
<line x1="1202.1" y1="357.7" x2="1214.8" y2="345.0" stroke="#111" stroke-width="1.0"/>
<line x1="1207.1" y1="357.7" x2="1219.8" y2="345.0" stroke="#111" stroke-width="1.0"/>
<line x1="1212.1" y1="357.7" x2="1224.8" y2="345.0" stroke="#111" stroke-width="1.0"/>
<line x1="1217.1" y1="357.7" x2="1229.8" y2="345.0" stroke="#111" stroke-width="1.0"/>
</g>
<rect x="1184.8" y="345.0" width="34.2" height="12.7" fill="none" stroke="#111" stroke-width="1.2"/>
<rect x="1222.3" y="345.0" width="9.7" height="10.5" fill="none" stroke="#444" stroke-width="1"/>
<path d="M1234.7,345.0 L1234.7,355.5 A10.5,10.5 0 0 0 1245.0,345.0" stroke="#555" stroke-width="0.6" fill="none"/>
<rect x="1262.3" y="343.0" width="4.6" height="62.5" fill="#0b0b0b"/>
<rect x="1262.3" y="405.5" width="4.6" height="53.1" fill="#fff" stroke="#7a7a7a" stroke-width="0.45"/>
<line x1="1264.6" y1="405.5" x2="1264.6" y2="458.6" stroke="#c4c4c4" stroke-width="0.4"/>
<line x1="1262.3" y1="432.1" x2="1266.9" y2="432.1" stroke="#666" stroke-width="0.5"/>
<rect x="1262.3" y="458.6" width="4.6" height="102.8" fill="#0b0b0b"/>
<path d="M1262.3,405.5 L1236.6,405.5 A25.7,25.7 0 0 0 1262.3,432.0" stroke="#444" stroke-width="0.6" fill="none"/>
<path d="M1262.3,458.6 L1236.6,458.6 A25.7,25.7 0 0 1 1262.3,432.0" stroke="#444" stroke-width="0.6" fill="none"/>
<rect x="1267.4" y="367.8" width="49.9" height="94.5" fill="#d9d9d9"/>
<rect x="1267.4" y="367.8" width="49.9" height="94.5" fill="none" stroke="#999" stroke-width="0.6"/>
<rect x="1268.5" y="369.0" width="46.0" height="93.3" fill="none" stroke="#aaa" stroke-width="0.6"/>
<rect x="1262.0" y="462.3" width="61.8" height="4.1" fill="#0b0b0b"/>
<rect x="1319.0" y="462.3" width="28.5" height="4.1" fill="#fff" stroke="#7a7a7a" stroke-width="0.45"/>
<line x1="1319.0" y1="464.4" x2="1347.5" y2="464.4" stroke="#c4c4c4" stroke-width="0.4"/>
<line x1="1333.2" y1="462.3" x2="1333.2" y2="466.4" stroke="#666" stroke-width="0.5"/>
<rect x="1347.5" y="462.3" width="5.0" height="4.1" fill="#0b0b0b"/>
<rect x="1352.5" y="462.3" width="24.9" height="4.1" fill="#fff" stroke="#7a7a7a" stroke-width="0.45"/>
<line x1="1352.5" y1="464.4" x2="1377.4" y2="464.4" stroke="#c4c4c4" stroke-width="0.4"/>
<rect x="1377.4" y="462.3" width="5.6" height="4.1" fill="#0b0b0b"/>
<rect x="1383.0" y="462.3" width="24.0" height="4.1" fill="#fff" stroke="#7a7a7a" stroke-width="0.45"/>
<line x1="1383.0" y1="464.4" x2="1407.0" y2="464.4" stroke="#c4c4c4" stroke-width="0.4"/>
<rect x="1407.0" y="462.3" width="14.5" height="4.1" fill="#0b0b0b"/>
<rect x="1314.0" y="466.4" width="2.9" height="95.4" fill="#0b0b0b"/>
<rect x="1417.8" y="462.3" width="3.7" height="34.7" fill="#0b0b0b"/>
<rect x="1417.8" y="493.2" width="128.0" height="3.8" fill="#0b0b0b"/>
<rect x="1415.2" y="497.0" width="2.6" height="64.4" fill="none" stroke="#888" stroke-width="0.6"/>
<rect x="1316.9" y="559.6" width="101.1" height="2.4" fill="none" stroke="#888" stroke-width="0.6"/>
<rect x="1418.0" y="558.0" width="3.5" height="4.0" fill="#0b0b0b"/>
<rect x="1266.9" y="466.4" width="6.3" height="47.3" fill="none" stroke="#888" stroke-width="0.6"/>
<line x1="1306.2" y1="466.4" x2="1306.2" y2="541.0" stroke="#999" stroke-width="0.5" stroke-dasharray="1.5,1.5"/>
<line x1="1310.8" y1="466.4" x2="1310.8" y2="541.0" stroke="#999" stroke-width="0.5" stroke-dasharray="1.5,1.5"/>
<path d="M1266.9,519.2 L1286.0,519.2 A19.1,19.1 0 0 1 1266.9,540.3" stroke="#555" stroke-width="0.6" fill="none"/>
<rect x="1280.6" y="542.7" width="35.4" height="3.3" fill="#0b0b0b"/>
<rect x="1280.6" y="542.7" width="3.1" height="19.1" fill="#0b0b0b"/>
<rect x="1262.0" y="559.6" width="21.7" height="2.2" fill="#0b0b0b"/>
<path d="M1283.5,562.0 L1283.5,576.6 A14.6,14.6 0 0 0 1298.0,562.0" stroke="#555" stroke-width="0.6" fill="none"/>
<path d="M1312.5,562.0 L1312.5,576.6 A14.6,14.6 0 0 1 1298.0,562.0" stroke="#555" stroke-width="0.6" fill="none"/>
<text x="1284.0" y="502.0" font-size="6.3" fill="#5e5e5e" text-anchor="middle" font-weight="normal" transform="rotate(-90 1284.0 502.0)">W.I.C.</text>
<text x="1290.8" y="501.2" font-size="6.3" fill="#5e5e5e" text-anchor="middle" font-weight="normal" transform="rotate(-90 1290.8 501.2)">5'11&quot; x 11'7&quot;</text>
<rect x="1048.4" y="522.5" width="164.3" height="4.5" fill="#0b0b0b"/>
<rect x="1048.4" y="522.5" width="4.3" height="16.9" fill="#0b0b0b"/>
<rect x="1031.0" y="535.7" width="21.7" height="3.7" fill="#0b0b0b"/>
<rect x="1031.0" y="535.7" width="5.0" height="8.3" fill="#0b0b0b"/>
<rect x="1031.0" y="544.0" width="5.0" height="39.4" fill="#fff" stroke="#7a7a7a" stroke-width="0.45"/>
<line x1="1033.5" y1="544.0" x2="1033.5" y2="583.4" stroke="#c4c4c4" stroke-width="0.4"/>
<line x1="1031.0" y1="563.7" x2="1036.0" y2="563.7" stroke="#666" stroke-width="0.5"/>
<rect x="1031.0" y="583.4" width="5.0" height="8.3" fill="#0b0b0b"/>
<rect x="1031.0" y="588.0" width="21.7" height="3.7" fill="#0b0b0b"/>
<rect x="1048.4" y="588.0" width="4.3" height="48.7" fill="#0b0b0b"/>
<rect x="1048.4" y="636.7" width="4.3" height="22.9" fill="#fff" stroke="#7a7a7a" stroke-width="0.45"/>
<line x1="1050.6" y1="636.7" x2="1050.6" y2="659.6" stroke="#c4c4c4" stroke-width="0.4"/>
<rect x="1048.4" y="659.6" width="4.3" height="35.5" fill="#0b0b0b"/>
<line x1="1052.7" y1="539.4" x2="1052.7" y2="588.0" stroke="#aaa" stroke-width="0.6"/>
<rect x="1048.0" y="601.8" width="118.8" height="4.0" fill="#0b0b0b"/>
<rect x="1165.9" y="597.2" width="46.4" height="8.6" fill="#0b0b0b"/>
<rect x="1165.9" y="527.0" width="3.1" height="30.8" fill="#fff" stroke="#7a7a7a" stroke-width="0.45"/>
<line x1="1167.5" y1="527.0" x2="1167.5" y2="557.8" stroke="#c4c4c4" stroke-width="0.4"/>
<line x1="1165.9" y1="542.4" x2="1169.0" y2="542.4" stroke="#666" stroke-width="0.5"/>
<rect x="1165.9" y="557.8" width="3.6" height="7.2" fill="#0b0b0b"/>
<rect x="1165.9" y="565.0" width="3.1" height="21.0" fill="#fff" stroke="#7a7a7a" stroke-width="0.45"/>
<line x1="1167.5" y1="565.0" x2="1167.5" y2="586.0" stroke="#c4c4c4" stroke-width="0.4"/>
<rect x="1165.9" y="586.0" width="3.1" height="19.8" fill="#0b0b0b"/>
<path d="M1166.0,529.0 L1152.0,529.0 A14.0,14.0 0 0 0 1166.0,542.5" stroke="#555" stroke-width="0.6" fill="none"/>
<path d="M1166.0,556.0 L1152.0,556.0 A14.0,14.0 0 0 1 1166.0,542.5" stroke="#555" stroke-width="0.6" fill="none"/>
<path d="M1166.0,586.0 L1144.8,586.0 A21.2,21.2 0 0 1 1166.0,565.0" stroke="#555" stroke-width="0.6" fill="none"/>
<rect x="1169.0" y="527.0" width="43.7" height="32.2" fill="#fff" stroke="#777" stroke-width="0.5"/>
<line x1="1176.0" y1="527.0" x2="1176.0" y2="559.2" stroke="#888" stroke-width="0.5"/>
<line x1="1180.5" y1="527.0" x2="1180.5" y2="559.2" stroke="#888" stroke-width="0.5"/>
<line x1="1185.0" y1="527.0" x2="1185.0" y2="559.2" stroke="#888" stroke-width="0.5"/>
<line x1="1197.0" y1="527.0" x2="1197.0" y2="559.2" stroke="#888" stroke-width="0.5"/>
<line x1="1201.0" y1="527.0" x2="1201.0" y2="559.2" stroke="#888" stroke-width="0.5"/>
<line x1="1205.3" y1="527.0" x2="1205.3" y2="559.2" stroke="#888" stroke-width="0.5"/>
<rect x="1166.0" y="559.2" width="49.4" height="3.1" fill="#0b0b0b"/>
<rect x="1189.2" y="527.0" width="2.8" height="34.0" fill="#0b0b0b"/>
<path d="M1212.7,528.4 L1227.3,528.4 A14.6,14.6 0 0 1 1212.7,543.0" stroke="#555" stroke-width="0.6" fill="none"/>
<path d="M1212.7,557.8 L1227.3,557.8 A14.6,14.6 0 0 0 1212.7,543.0" stroke="#555" stroke-width="0.6" fill="none"/>
<path d="M1261.0,559.5 L1261.0,537.5 A22.0,22.0 0 0 0 1238.5,559.5" stroke="#555" stroke-width="0.6" fill="none"/>
<line x1="1213.0" y1="560.5" x2="1262.0" y2="560.5" stroke="#aaa" stroke-width="0.6"/>
<rect x="1234.7" y="597.2" width="47.7" height="2.8" fill="#0b0b0b"/>
<line x1="1282.4" y1="598.6" x2="1303.5" y2="598.6" stroke="#999" stroke-width="0.6"/>
<rect x="1303.5" y="597.2" width="74.3" height="2.8" fill="#0b0b0b"/>
<rect x="1243.0" y="600.0" width="81.6" height="72.8" fill="#d9d9d9"/>
<rect x="1328.0" y="600.0" width="47.0" height="72.8" fill="#d9d9d9"/>
<rect x="1240.2" y="597.2" width="3.3" height="97.9" fill="#0b0b0b"/>
<rect x="1243.0" y="623.8" width="11.9" height="14.7" fill="#0b0b0b"/>
<rect x="1243.5" y="638.5" width="38.9" height="34.3" fill="none" stroke="#444" stroke-width="0.6"/>
<line x1="1243.5" y1="638.5" x2="1282.4" y2="672.8" stroke="#333" stroke-width="0.6"/>
<line x1="1282.4" y1="638.5" x2="1243.5" y2="672.8" stroke="#333" stroke-width="0.6"/>
<rect x="1280.6" y="638.5" width="2.3" height="34.3" fill="#0b0b0b"/>
<rect x="1309.0" y="606.4" width="15.6" height="66.4" fill="none" stroke="#777" stroke-width="0.6"/>
<rect x="1310.0" y="629.0" width="12.0" height="13.0" fill="none" stroke="#777" stroke-width="0.6"/>
<ellipse cx="1253" cy="610" rx="9" ry="5.5" fill="none" stroke="#555" stroke-width="0.6"/>
<path d="M1303.5,600.0 L1303.5,621.0 A21.0,21.0 0 0 1 1282.4,600.0" stroke="#555" stroke-width="0.6" fill="none"/>
<rect x="1325.0" y="600.0" width="2.9" height="72.8" fill="#0b0b0b"/>
<rect x="1328.3" y="600.0" width="45.7" height="21.0" fill="none" stroke="#555" stroke-width="0.6"/>
<rect x="1330" y="601.5" width="41" height="18.5" rx="9" fill="none" stroke="#555" stroke-width="0.7"/>
<ellipse cx="1340" cy="630" rx="8" ry="5.5" fill="none" stroke="#555" stroke-width="0.6"/>
<rect x="1328.3" y="648.0" width="14.7" height="24.8" fill="none" stroke="#777" stroke-width="0.6"/>
<circle cx="1335.5" cy="660" r="4.5" fill="none" stroke="#555" stroke-width="0.6"/>
<path d="M1371.5,672.8 L1371.5,652.0 A20.8,20.8 0 0 0 1350.5,672.8" stroke="#555" stroke-width="0.6" fill="none"/>
<rect x="1375.0" y="597.2" width="3.2" height="79.5" fill="#0b0b0b"/>
<rect x="1240.0" y="672.8" width="110.5" height="3.9" fill="#0b0b0b"/>
<rect x="1371.5" y="672.8" width="20.8" height="3.9" fill="#0b0b0b"/>
<rect x="1414.6" y="673.0" width="27.1" height="3.7" fill="#0b0b0b"/>
<line x1="1350.5" y1="674.5" x2="1371.5" y2="674.5" stroke="#bbb" stroke-width="1.2"/>
<text x="1354.0" y="643.0" font-size="6.3" fill="#5e5e5e" text-anchor="middle" font-weight="normal" transform="rotate(-90 1354.0 643.0)">BATH</text>
<text x="1361.5" y="642.0" font-size="6.3" fill="#5e5e5e" text-anchor="middle" font-weight="normal" transform="rotate(-90 1361.5 642.0)">5'6&quot; x 8'10&quot;</text>
<rect x="1122.4" y="605.8" width="3.1" height="18.9" fill="#0b0b0b"/>
<rect x="1122.4" y="624.7" width="3.1" height="22.0" fill="#fff" stroke="#7a7a7a" stroke-width="0.45"/>
<line x1="1124.0" y1="624.7" x2="1124.0" y2="646.7" stroke="#c4c4c4" stroke-width="0.4"/>
<rect x="1122.4" y="646.7" width="3.1" height="48.4" fill="#0b0b0b"/>
<line x1="1052.7" y1="612.8" x2="1122.4" y2="612.8" stroke="#888" stroke-width="0.5" stroke-dasharray="1.5,1.5"/>
<line x1="1052.7" y1="619.2" x2="1122.4" y2="619.2" stroke="#888" stroke-width="0.6"/>
<path d="M1122.4,624.7 L1101.7,624.7 A20.7,20.7 0 0 0 1122.4,645.4" stroke="#555" stroke-width="0.6" fill="none"/>
<rect x="1048.4" y="691.2" width="102.3" height="3.9" fill="#0b0b0b"/>
<rect x="1146.8" y="691.2" width="3.9" height="20.2" fill="#0b0b0b"/>
<rect x="1146.8" y="707.7" width="14.4" height="3.7" fill="#0b0b0b"/>
<rect x="1161.2" y="707.7" width="44.7" height="3.7" fill="#fff" stroke="#7a7a7a" stroke-width="0.45"/>
<line x1="1161.2" y1="709.5" x2="1205.9" y2="709.5" stroke="#c4c4c4" stroke-width="0.4"/>
<line x1="1183.6" y1="707.7" x2="1183.6" y2="711.4" stroke="#666" stroke-width="0.5"/>
<rect x="1205.9" y="707.7" width="15.1" height="3.7" fill="#0b0b0b"/>
<rect x="1216.4" y="691.2" width="4.6" height="20.2" fill="#0b0b0b"/>
<rect x="1216.4" y="691.2" width="27.6" height="3.9" fill="#0b0b0b"/>
<line x1="1150.7" y1="691.2" x2="1216.4" y2="691.2" stroke="#aaa" stroke-width="0.6"/>
<path d="M1234.7,605.8 L1234.7,621.0 A15.2,15.2 0 0 1 1212.7,605.8" stroke="#555" stroke-width="0.6" fill="none"/>
<rect x="1318.7" y="676.0" width="3.9" height="57.0" fill="#0b0b0b"/>
<rect x="1318.7" y="729.2" width="21.3" height="3.8" fill="#0b0b0b"/>
<rect x="1335.8" y="729.2" width="4.4" height="82.8" fill="#0b0b0b"/>
<rect x="1335.8" y="808.0" width="23.6" height="4.0" fill="#0b0b0b"/>
<rect x="1359.4" y="808.0" width="53.8" height="4.0" fill="#fff" stroke="#7a7a7a" stroke-width="0.45"/>
<line x1="1359.4" y1="810.0" x2="1413.2" y2="810.0" stroke="#c4c4c4" stroke-width="0.4"/>
<line x1="1386.3" y1="808.0" x2="1386.3" y2="812.0" stroke="#666" stroke-width="0.5"/>
<rect x="1413.2" y="808.0" width="28.3" height="4.0" fill="#0b0b0b"/>
<rect x="1438.8" y="673.0" width="3.0" height="139.0" fill="#0b0b0b"/>
<rect x="1322.6" y="676.7" width="15.8" height="52.5" fill="#fff" stroke="#888" stroke-width="0.5"/>
<line x1="1328.0" y1="676.7" x2="1328.0" y2="729.2" stroke="#999" stroke-width="0.5" stroke-dasharray="1.5,1.5"/>
<line x1="1334.0" y1="676.7" x2="1334.0" y2="729.2" stroke="#999" stroke-width="0.5"/>
<rect x="1336.0" y="680.0" width="4.0" height="35.0" fill="#fff" stroke="#7a7a7a" stroke-width="0.45"/>
<line x1="1338.0" y1="680.0" x2="1338.0" y2="715.0" stroke="#c4c4c4" stroke-width="0.4"/>
<line x1="1336.0" y1="697.5" x2="1340.0" y2="697.5" stroke="#666" stroke-width="0.5"/>
<path d="M1340.0,680.0 L1358.0,680.0 A18.0,18.0 0 0 1 1340.0,697.5" stroke="#555" stroke-width="0.6" fill="none"/>
<path d="M1340.0,715.0 L1358.0,715.0 A18.0,18.0 0 0 0 1340.0,697.5" stroke="#555" stroke-width="0.6" fill="none"/>
<path d="M1414.5,676.7 L1414.5,697.2 A20.5,20.5 0 0 1 1393.5,676.7" stroke="#555" stroke-width="0.6" fill="none"/>
<line x1="1392.3" y1="675.0" x2="1414.6" y2="675.0" stroke="#999" stroke-width="0.6"/>
<rect x="1541.7" y="493.2" width="4.1" height="32.0" fill="#0b0b0b"/>
<rect x="1541.7" y="525.2" width="4.1" height="35.4" fill="#fff" stroke="#7a7a7a" stroke-width="0.45"/>
<line x1="1543.8" y1="525.2" x2="1543.8" y2="560.6" stroke="#c4c4c4" stroke-width="0.4"/>
<line x1="1541.7" y1="542.9" x2="1545.8" y2="542.9" stroke="#666" stroke-width="0.5"/>
<rect x="1541.7" y="560.6" width="4.1" height="153.6" fill="#0b0b0b"/>
<rect x="1439.2" y="710.6" width="106.6" height="3.6" fill="#0b0b0b"/>
<rect x="1438.8" y="673.0" width="3.0" height="41.2" fill="#0b0b0b"/>
<rect x="1372.9" y="598.0" width="4.1" height="78.0" fill="#0b0b0b"/>
<path d="M1421.8,597.3 A70,70 0 0 1 1543.0,645.0" stroke="#444" stroke-width="0.6" fill="none"/>
<path d="M1423.6,599.0 A67.5,67.5 0 0 1 1540.5,645.0" stroke="#444" stroke-width="0.5" fill="none"/>
<path d="M1438.0,645.0 A35,35 0 0 1 1508.0,645.0" stroke="#444" stroke-width="0.6" fill="none"/>
<path d="M1435.5,645.0 A37.5,37.5 0 0 1 1510.5,645.0" stroke="#444" stroke-width="0.5" fill="none"/>
<line x1="1438.0" y1="645.0" x2="1438.0" y2="673.0" stroke="#444" stroke-width="0.6"/>
<line x1="1435.5" y1="645.0" x2="1435.5" y2="673.0" stroke="#444" stroke-width="0.5"/>
<line x1="1446.5" y1="618.5" x2="1425.3" y2="597.3" stroke="#444" stroke-width="0.5"/>
<line x1="1451.0" y1="614.7" x2="1433.3" y2="590.4" stroke="#444" stroke-width="0.5"/>
<line x1="1456.0" y1="611.6" x2="1442.4" y2="584.9" stroke="#444" stroke-width="0.5"/>
<line x1="1461.4" y1="609.3" x2="1452.1" y2="580.8" stroke="#444" stroke-width="0.5"/>
<line x1="1467.1" y1="608.0" x2="1462.4" y2="578.3" stroke="#444" stroke-width="0.5"/>
<line x1="1473.0" y1="607.5" x2="1473.0" y2="577.5" stroke="#444" stroke-width="0.5"/>
<line x1="1478.9" y1="608.0" x2="1483.6" y2="578.3" stroke="#444" stroke-width="0.5"/>
<line x1="1484.6" y1="609.3" x2="1493.9" y2="580.8" stroke="#444" stroke-width="0.5"/>
<line x1="1490.0" y1="611.6" x2="1503.6" y2="584.9" stroke="#444" stroke-width="0.5"/>
<line x1="1495.0" y1="614.7" x2="1512.7" y2="590.4" stroke="#444" stroke-width="0.5"/>
<line x1="1499.5" y1="618.5" x2="1520.7" y2="597.3" stroke="#444" stroke-width="0.5"/>
<line x1="1503.3" y1="623.0" x2="1527.6" y2="605.3" stroke="#444" stroke-width="0.5"/>
<line x1="1506.4" y1="628.0" x2="1533.1" y2="614.4" stroke="#444" stroke-width="0.5"/>
<line x1="1508.7" y1="633.4" x2="1537.2" y2="624.1" stroke="#444" stroke-width="0.5"/>
<line x1="1510.0" y1="639.1" x2="1539.7" y2="634.4" stroke="#444" stroke-width="0.5"/>
<line x1="1510.5" y1="645.0" x2="1540.5" y2="645.0" stroke="#444" stroke-width="0.5"/>
<path d="M1499.0,600.0 A52,52 0 0 1 1525.0,645.0" stroke="#666" stroke-width="0.5" fill="none"/>
<line x1="1423.0" y1="594.0" x2="1447.0" y2="618.0" stroke="#444" stroke-width="0.6"/>
<text x="1151.3" y="293.7" font-size="6.3" fill="#5e5e5e" text-anchor="middle" font-weight="normal">WATER</text>
<text x="1151.3" y="301.7" font-size="6.3" fill="#5e5e5e" text-anchor="middle" font-weight="normal">CLOSET</text>
<text x="1151.3" y="309.5" font-size="6.3" fill="#5e5e5e" text-anchor="middle" font-weight="normal">5'11&quot; x 10'8&quot;</text>
<text x="1237.9" y="296.4" font-size="6.3" fill="#5e5e5e" text-anchor="middle" font-weight="normal">ENSUITE</text>
<text x="1237.9" y="304.4" font-size="6.3" fill="#5e5e5e" text-anchor="middle" font-weight="normal">15'7&quot; x 9'0&quot;</text>
<text x="1290.7" y="416.3" font-size="6.3" fill="#5e5e5e" text-anchor="middle" font-weight="normal">BALCONY</text>
<text x="1290.7" y="424.3" font-size="6.3" fill="#5e5e5e" text-anchor="middle" font-weight="normal">5'5&quot; x 11'1&quot;</text>
<text x="1198.0" y="446.5" font-size="6.3" fill="#5e5e5e" text-anchor="middle" font-weight="normal">MASTER BEDROOM</text>
<text x="1198.0" y="454.5" font-size="6.3" fill="#5e5e5e" text-anchor="middle" font-weight="normal">16'8&quot; x 25'0&quot;</text>
<text x="1366.8" y="516.0" font-size="6.3" fill="#5e5e5e" text-anchor="middle" font-weight="normal">OPEN TO BELOW</text>
<text x="1483.3" y="536.6" font-size="6.3" fill="#5e5e5e" text-anchor="middle" font-weight="normal">FLEX SPACE</text>
<text x="1483.3" y="544.6" font-size="6.3" fill="#5e5e5e" text-anchor="middle" font-weight="normal">15'10&quot; x 21'2&quot;</text>
<text x="1490.8" y="680.3" font-size="6.3" fill="#5e5e5e" text-anchor="middle" font-weight="normal">OPEN TO BELOW</text>
<text x="1271.7" y="574.8" font-size="6.3" fill="#5e5e5e" text-anchor="middle" font-weight="normal">HALL</text>
<text x="1271.7" y="582.8" font-size="6.3" fill="#5e5e5e" text-anchor="middle" font-weight="normal">25'4&quot; x 4'3&quot;</text>
<text x="1103.9" y="564.0" font-size="6.3" fill="#5e5e5e" text-anchor="middle" font-weight="normal">BEDROOM</text>
<text x="1103.9" y="572.0" font-size="6.3" fill="#5e5e5e" text-anchor="middle" font-weight="normal">15'10&quot; x 9'4&quot;</text>
<text x="1096.1" y="641.4" font-size="6.3" fill="#5e5e5e" text-anchor="middle" font-weight="normal">W.I.C.</text>
<text x="1096.1" y="649.4" font-size="6.3" fill="#5e5e5e" text-anchor="middle" font-weight="normal">8'5&quot; x 10'4&quot;</text>
<text x="1183.9" y="653.0" font-size="6.3" fill="#5e5e5e" text-anchor="middle" font-weight="normal">BEDROOM</text>
<text x="1183.9" y="661.0" font-size="6.3" fill="#5e5e5e" text-anchor="middle" font-weight="normal">13'11&quot; x 13'1&quot;</text>
<text x="1282.8" y="618.8" font-size="6.3" fill="#5e5e5e" text-anchor="middle" font-weight="normal">BATH</text>
<text x="1282.8" y="626.8" font-size="6.3" fill="#5e5e5e" text-anchor="middle" font-weight="normal">5'11&quot; x 8'10&quot;</text>
<text x="1388.8" y="741.7" font-size="6.3" fill="#5e5e5e" text-anchor="middle" font-weight="normal">BEDROOM</text>
<text x="1388.8" y="749.7" font-size="6.3" fill="#5e5e5e" text-anchor="middle" font-weight="normal">11'10&quot; x 15'0&quot;</text>
<text x="1048.6" y="722.5" font-size="6.5" fill="#222" text-anchor="start" font-weight="bold">FLOOR 3</text>
<rect x="1015.3" y="1055.8" width="89.1" height="84.2" fill="#f3f4f6"/>
<rect x="1050.0" y="1021.3" width="30.0" height="36.4" fill="#f3f4f6"/>
<rect x="884.3" y="846.6" width="31.6" height="2.8" fill="#0b0b0b"/>
<rect x="949.3" y="846.6" width="129.9" height="2.8" fill="#0b0b0b"/>
<rect x="884.3" y="846.6" width="3.7" height="11.0" fill="#0b0b0b"/>
<rect x="884.3" y="857.6" width="3.7" height="22.0" fill="#fff" stroke="#7a7a7a" stroke-width="0.45"/>
<line x1="886.1" y1="857.6" x2="886.1" y2="879.6" stroke="#c4c4c4" stroke-width="0.4"/>
<rect x="884.3" y="879.6" width="3.7" height="34.9" fill="#0b0b0b"/>
<path d="M888.0,857.6 L909.4,857.6 A21.4,21.4 0 0 1 888.0,879.0" stroke="#555" stroke-width="0.6" fill="none"/>
<rect x="884.3" y="910.8" width="45.3" height="3.7" fill="#0b0b0b"/>
<rect x="926.0" y="910.8" width="3.6" height="34.9" fill="#0b0b0b"/>
<rect x="926.0" y="942.0" width="89.9" height="3.7" fill="#0b0b0b"/>
<rect x="1012.8" y="910.8" width="3.1" height="234.2" fill="#0b0b0b"/>
<circle cx="1024.1" cy="984.2" r="7.5" fill="none" stroke="#555" stroke-width="0.6"/>
<line x1="1020.0" y1="981.0" x2="1027.0" y2="988.0" stroke="#555" stroke-width="0.6"/>
<line x1="1022.0" y1="979.0" x2="1026.0" y2="983.0" stroke="#555" stroke-width="0.6"/>
<rect x="1016.8" y="1010.0" width="14.7" height="16.4" fill="none" stroke="#777" stroke-width="0.6"/>
<rect x="1076.2" y="845.6" width="119.2" height="3.6" fill="#0b0b0b"/>
<rect x="1192.2" y="830.4" width="3.8" height="18.9" fill="#0b0b0b"/>
<rect x="1192.2" y="830.4" width="116.5" height="3.6" fill="#0b0b0b"/>
<rect x="1304.9" y="830.4" width="3.8" height="107.4" fill="#0b0b0b"/>
<rect x="1304.9" y="934.0" width="121.3" height="3.8" fill="#0b0b0b"/>
<rect x="1076.2" y="845.6" width="3.2" height="108.7" fill="#0b0b0b"/>
<rect x="1157.5" y="849.2" width="3.2" height="7.5" fill="#0b0b0b"/>
<rect x="1157.5" y="856.8" width="3.2" height="21.7" fill="#fff" stroke="#7a7a7a" stroke-width="0.45"/>
<line x1="1159.1" y1="856.8" x2="1159.1" y2="878.5" stroke="#c4c4c4" stroke-width="0.4"/>
<rect x="1157.5" y="878.5" width="3.2" height="105.1" fill="#0b0b0b"/>
<path d="M1157.5,856.8 L1134.8,856.8 A22.7,22.7 0 0 0 1157.5,878.5" stroke="#555" stroke-width="0.6" fill="none"/>
<rect x="1076.0" y="927.2" width="84.8" height="3.2" fill="#0b0b0b"/>
<rect x="1079.5" y="930.5" width="78.0" height="22.8" fill="#d9d9d9"/>
<rect x="1107.7" y="953.2" width="49.8" height="27.5" fill="#d9d9d9"/>
<rect x="1076.0" y="953.2" width="30.6" height="3.2" fill="#0b0b0b"/>
<rect x="1104.4" y="953.0" width="3.3" height="30.6" fill="#0b0b0b"/>
<rect x="1131.5" y="980.8" width="29.2" height="2.8" fill="#0b0b0b"/>
<line x1="1107.7" y1="982.0" x2="1131.5" y2="982.0" stroke="#999" stroke-width="0.6"/>
<ellipse cx="1089" cy="942.5" rx="9" ry="6" fill="none" stroke="#555" stroke-width="0.6"/>
<rect x="1141.3" y="940.3" width="16.2" height="31.4" fill="none" stroke="#777" stroke-width="0.6"/>
<rect x="1143.5" y="950.0" width="11.5" height="12.0" fill="none" stroke="#777" stroke-width="0.6"/>
<path d="M1111.0,980.8 L1111.0,958.7 A22.1,22.1 0 0 1 1131.5,980.8" stroke="#555" stroke-width="0.6" fill="none"/>
<rect x="1422.3" y="934.0" width="3.9" height="20.1" fill="#0b0b0b"/>
<rect x="1422.3" y="954.1" width="3.9" height="23.6" fill="#fff" stroke="#7a7a7a" stroke-width="0.45"/>
<line x1="1424.2" y1="954.1" x2="1424.2" y2="977.7" stroke="#c4c4c4" stroke-width="0.4"/>
<rect x="1422.3" y="977.7" width="3.9" height="9.7" fill="#0b0b0b"/>
<rect x="1422.3" y="983.3" width="10.9" height="4.1" fill="#0b0b0b"/>
<rect x="1429.3" y="983.3" width="3.9" height="80.3" fill="#0b0b0b"/>
<rect x="1422.3" y="1060.0" width="10.9" height="3.6" fill="#0b0b0b"/>
<rect x="1422.3" y="1060.0" width="3.9" height="9.6" fill="#0b0b0b"/>
<rect x="1422.3" y="1069.6" width="3.9" height="24.4" fill="#fff" stroke="#7a7a7a" stroke-width="0.45"/>
<line x1="1424.2" y1="1069.6" x2="1424.2" y2="1094.0" stroke="#c4c4c4" stroke-width="0.4"/>
<rect x="1422.3" y="1094.0" width="3.9" height="29.8" fill="#0b0b0b"/>
<rect x="1202.2" y="1119.4" width="224.0" height="4.4" fill="#0b0b0b"/>
<rect x="1304.6" y="1093.2" width="4.0" height="27.1" fill="#0b0b0b"/>
<path d="M1214.5,944.5 L1214.5,922.6 A21.9,21.9 0 0 0 1193.5,944.5" stroke="#555" stroke-width="0.6" fill="none"/>
<path d="M1300.6,944.5 L1300.6,922.6 A21.9,21.9 0 0 0 1279.2,944.5" stroke="#555" stroke-width="0.6" fill="none"/>
<line x1="1193.5" y1="943.0" x2="1214.5" y2="943.0" stroke="#999" stroke-width="0.6"/>
<line x1="1279.2" y1="943.0" x2="1300.6" y2="943.0" stroke="#999" stroke-width="0.6"/>
<rect x="1185.7" y="941.3" width="3.3" height="39.0" fill="#0b0b0b"/>
<rect x="1185.7" y="944.5" width="7.8" height="3.3" fill="#0b0b0b"/>
<rect x="1214.5" y="944.5" width="10.5" height="3.3" fill="#0b0b0b"/>
<rect x="1222.0" y="944.5" width="3.0" height="14.2" fill="#0b0b0b"/>
<rect x="1222.0" y="955.4" width="45.0" height="3.3" fill="#0b0b0b"/>
<rect x="1264.0" y="944.5" width="3.0" height="17.5" fill="#0b0b0b"/>
<rect x="1264.0" y="944.5" width="15.2" height="3.3" fill="#0b0b0b"/>
<rect x="1300.6" y="944.5" width="8.0" height="3.3" fill="#0b0b0b"/>
<rect x="1304.6" y="930.0" width="4.0" height="56.5" fill="#0b0b0b"/>
<polygon points="1186.8,969.5 1195.4,969.5 1187.0,981.0" fill="#0b0b0b"/>
<path d="M1294.4,986 L1308.6,986 L1308.6,1034.6 L1306,1034.6 C1305,1012 1300,997 1294.4,986 Z" fill="#0b0b0b"/>
<line x1="1246.9" y1="960.2" x2="1242.5" y2="991.7" stroke="#444" stroke-width="0.5"/>
<line x1="1257.4" y1="962.9" x2="1247.7" y2="993.5" stroke="#444" stroke-width="0.5"/>
<line x1="1267.0" y1="967.2" x2="1253.0" y2="995.2" stroke="#444" stroke-width="0.5"/>
<line x1="1275.7" y1="972.5" x2="1257.4" y2="997.9" stroke="#444" stroke-width="0.5"/>
<line x1="1283.6" y1="980.4" x2="1261.7" y2="1001.4" stroke="#444" stroke-width="0.5"/>
<line x1="1290.6" y1="988.2" x2="1264.4" y2="1005.7" stroke="#444" stroke-width="0.5"/>
<line x1="1295.8" y1="997.0" x2="1266.1" y2="1011.0" stroke="#444" stroke-width="0.5"/>
<path d="M1188,980 C1205,962 1225,958 1244,958.7 C1280,960 1305,995 1306,1034.6" stroke="#0b0b0b" stroke-width="3.6" fill="none"/>
<path d="M1200,997 L1209.5,1004.2 C1218,994 1230,991 1240,992.5 C1252,994 1262,1003 1267,1011.8" stroke="#0b0b0b" stroke-width="3.6" fill="none"/>
<line x1="1189.0" y1="981.0" x2="1208.0" y2="1001.0" stroke="#444" stroke-width="0.6"/>
<path d="M1189.0,983.0 L1172.0,998.0 A22.7,22.7 0 0 0 1195.0,1006.0" stroke="#555" stroke-width="0.6" fill="none"/>
<rect x="1046.6" y="981.1" width="6.5" height="2.7" fill="#0b0b0b"/>
<line x1="1053.1" y1="982.4" x2="1073.2" y2="982.4" stroke="#bbb" stroke-width="1.2"/>
<rect x="1073.2" y="981.1" width="31.2" height="2.7" fill="#0b0b0b"/>
<rect x="1046.6" y="981.0" width="3.0" height="8.0" fill="#0b0b0b"/>
<rect x="1046.6" y="1010.8" width="3.0" height="27.8" fill="#0b0b0b"/>
<rect x="1046.6" y="998.0" width="3.0" height="12.8" fill="#fff" stroke="#7a7a7a" stroke-width="0.45"/>
<line x1="1048.1" y1="998.0" x2="1048.1" y2="1010.8" stroke="#c4c4c4" stroke-width="0.4"/>
<path d="M1072.8,981.5 L1072.8,963.8 A17.7,17.7 0 0 0 1054.6,981.5" stroke="#555" stroke-width="0.6" fill="none"/>
<path d="M1049.0,1012.2 L1069.7,1012.2 A20.7,20.7 0 0 0 1049.0,991.5" stroke="#555" stroke-width="0.6" fill="none"/>
<rect x="1047.0" y="1021.3" width="8.6" height="2.9" fill="#0b0b0b"/>
<rect x="1055.6" y="1021.3" width="21.1" height="2.9" fill="#fff" stroke="#7a7a7a" stroke-width="0.45"/>
<line x1="1055.6" y1="1022.8" x2="1076.7" y2="1022.8" stroke="#c4c4c4" stroke-width="0.4"/>
<rect x="1076.7" y="1021.3" width="101.3" height="3.5" fill="#0b0b0b"/>
<polygon points="1095.8,1024.0 1121.7,1024.0 1106.4,1037.6 1106.4,1058.7 1095.8,1058.7" fill="#0b0b0b"/>
<rect x="1079.5" y="1024.2" width="16.3" height="33.5" fill="#fff" stroke="#777" stroke-width="0.5"/>
<rect x="1079.5" y="1040.0" width="2.9" height="20.6" fill="#0b0b0b"/>
<rect x="1079.5" y="1057.7" width="24.9" height="2.9" fill="#0b0b0b"/>
<path d="M1053.0,1024.5 L1053.0,1045.0 A20.5,20.5 0 0 0 1073.0,1024.5" stroke="#555" stroke-width="0.6" fill="none"/>
<path d="M1079.0,1046.0 L1066.0,1059.0 A18.4,18.4 0 0 1 1079.0,1038.0" stroke="#555" stroke-width="0.6" fill="none"/>
<rect x="1024.0" y="1035.7" width="25.8" height="2.9" fill="#0b0b0b"/>
<rect x="1024.0" y="1035.7" width="2.8" height="19.2" fill="#0b0b0b"/>
<rect x="1015.0" y="1052.0" width="11.8" height="2.9" fill="#0b0b0b"/>
<rect x="1104.2" y="1024.0" width="2.8" height="116.4" fill="#0b0b0b"/>
<rect x="1104.2" y="1058.7" width="7.8" height="14.8" fill="#0b0b0b"/>
<rect x="1104.2" y="1103.3" width="10.7" height="18.0" fill="#0b0b0b"/>
<rect x="1011.5" y="1140.4" width="103.4" height="4.0" fill="#0b0b0b"/>
<rect x="1111.8" y="1103.3" width="3.1" height="82.5" fill="#0b0b0b"/>
<rect x="1111.8" y="1182.3" width="92.9" height="3.5" fill="#0b0b0b"/>
<rect x="1201.2" y="1121.0" width="3.5" height="64.8" fill="#0b0b0b"/>
<rect x="1207.0" y="1040.5" width="3.4" height="83.9" fill="#0b0b0b"/>
<rect x="1202.0" y="1059.7" width="8.4" height="13.3" fill="#0b0b0b"/>
<rect x="1202.0" y="1101.8" width="8.4" height="22.6" fill="#0b0b0b"/>
<line x1="1178.0" y1="1021.5" x2="1209.5" y2="1038.8" stroke="#444" stroke-width="0.6"/>
<line x1="1177.0" y1="1024.5" x2="1207.5" y2="1041.5" stroke="#444" stroke-width="0.6"/>
<rect x="1205.0" y="1036.5" width="5.4" height="4.5" fill="#0b0b0b"/>
<path d="M1183.0,1025.0 L1172.0,1048.0 A25.5,25.5 0 0 0 1200.0,1036.0" stroke="#555" stroke-width="0.6" fill="none"/>
<line x1="1188.0" y1="1028.0" x2="1205.0" y2="1037.0" stroke="#555" stroke-width="0.6"/>
<polygon points="1068.0,992.6 1103.5,976.9 1097.7,992.6 1104.4,1009.8" fill="#0b0b0b"/>
<path d="M1047.2,989.3 H1058.6 L1047.4,996.8 H1058.6" stroke="#0b0b0b" stroke-width="2.3" fill="none"/>
<text x="989.3" y="874.3" font-size="6.3" fill="#5e5e5e" text-anchor="middle" font-weight="normal">MECHANICAL/STORAGE</text>
<text x="983.0" y="882.3" font-size="6.3" fill="#5e5e5e" text-anchor="middle" font-weight="normal">22'9&quot; x 24'7&quot;</text>
<text x="1117.4" y="887.7" font-size="6.3" fill="#5e5e5e" text-anchor="middle" font-weight="normal">OFFICE 2</text>
<text x="1117.4" y="895.7" font-size="6.3" fill="#5e5e5e" text-anchor="middle" font-weight="normal">9'6&quot; x 9'6&quot;</text>
<text x="1120.2" y="941.6" font-size="6.3" fill="#5e5e5e" text-anchor="middle" font-weight="normal">POWDER</text>
<text x="1120.2" y="949.6" font-size="6.3" fill="#5e5e5e" text-anchor="middle" font-weight="normal">9'5&quot; x 6'1&quot;</text>
<text x="1232.9" y="892.4" font-size="6.3" fill="#5e5e5e" text-anchor="middle" font-weight="normal">GYM</text>
<text x="1232.9" y="900.4" font-size="6.3" fill="#5e5e5e" text-anchor="middle" font-weight="normal">17'5&quot; x 14'9&quot;</text>
<text x="1221.4" y="978.7" font-size="6.3" fill="#5e5e5e" text-anchor="middle" font-weight="normal">STORAGE</text>
<text x="1221.4" y="986.7" font-size="6.3" fill="#5e5e5e" text-anchor="middle" font-weight="normal">6'10&quot; x 4'3&quot;</text>
<text x="1125.0" y="1000.8" font-size="6.3" fill="#5e5e5e" text-anchor="middle" font-weight="normal">HALL</text>
<text x="1125.0" y="1008.8" font-size="6.3" fill="#5e5e5e" text-anchor="middle" font-weight="normal">19'5&quot; x 9'10&quot;</text>
<text x="1058.5" y="1089.4" font-size="6.3" fill="#5e5e5e" text-anchor="middle" font-weight="normal">OFFICE 1</text>
<text x="1058.5" y="1097.4" font-size="6.3" fill="#5e5e5e" text-anchor="middle" font-weight="normal">11'6&quot; x 14'1&quot;</text>
<text x="1157.1" y="1101.5" font-size="6.3" fill="#5e5e5e" text-anchor="middle" font-weight="normal">MEDIA ROOM</text>
<text x="1157.1" y="1109.5" font-size="6.3" fill="#5e5e5e" text-anchor="middle" font-weight="normal">12'2&quot; x 19'1&quot;</text>
<text x="1258.2" y="1069.5" font-size="6.3" fill="#5e5e5e" text-anchor="middle" font-weight="normal">GAMES ROOM</text>
<text x="1258.2" y="1077.5" font-size="6.3" fill="#5e5e5e" text-anchor="middle" font-weight="normal">13' x 11'5&quot;</text>
<text x="1365.5" y="1027.5" font-size="6.3" fill="#5e5e5e" text-anchor="middle" font-weight="normal">BILLIARDS ROOM</text>
<text x="1365.5" y="1035.5" font-size="6.3" fill="#5e5e5e" text-anchor="middle" font-weight="normal">20'6&quot; x 14'3&quot;</text>
<text x="64.8" y="78.75" font-size="60" fill="#111" stroke="#111" stroke-width="0.8" textLength="483" lengthAdjust="spacingAndGlyphs">1373 Glenbrook St</text>
<text x="68.8" y="130.0" font-size="27" fill="#111" text-anchor="start" font-weight="normal" textLength="187.2" lengthAdjust="spacingAndGlyphs">Coquitlam, BC</text>
<text x="62.8" y="195.2" font-size="20.5" fill="#111" text-anchor="start" font-weight="normal" textLength="110.8" lengthAdjust="spacingAndGlyphs">Main Level:</text>
<text x="306.5" y="195.2" font-size="20.5" fill="#111" text-anchor="end" font-weight="normal" textLength="89.8" lengthAdjust="spacingAndGlyphs">2955 sqft</text>
<text x="62.8" y="232.8" font-size="20.5" fill="#111" text-anchor="start" font-weight="normal" textLength="120.8" lengthAdjust="spacingAndGlyphs">Upper Level:</text>
<text x="306.5" y="232.8" font-size="20.5" fill="#111" text-anchor="end" font-weight="normal" textLength="92.3" lengthAdjust="spacingAndGlyphs">2083 sqft</text>
<text x="62.8" y="269.6" font-size="20.5" fill="#111" text-anchor="start" font-weight="normal" textLength="120.8" lengthAdjust="spacingAndGlyphs">Lower Level:</text>
<text x="306.5" y="269.6" font-size="20.5" fill="#111" text-anchor="end" font-weight="normal" textLength="88.8" lengthAdjust="spacingAndGlyphs">1673 sqft</text>
<text x="62.8" y="344.0" font-size="20.5" fill="#111" text-anchor="start" font-weight="bold" textLength="115.1" lengthAdjust="spacingAndGlyphs">Living Area:</text>
<text x="306.5" y="344.0" font-size="20.5" fill="#111" text-anchor="end" font-weight="bold" textLength="89.6" lengthAdjust="spacingAndGlyphs">6711 sqft</text>
<text x="62.8" y="419.7" font-size="20.5" fill="#111" text-anchor="start" font-weight="normal" textLength="114.5" lengthAdjust="spacingAndGlyphs">Mechanical:</text>
<text x="306.5" y="419.7" font-size="20.5" fill="#111" text-anchor="end" font-weight="normal" textLength="79.39999999999999" lengthAdjust="spacingAndGlyphs">336 sqft</text>
<text x="62.8" y="456.2" font-size="20.5" fill="#111" text-anchor="start" font-weight="normal" textLength="53.3" lengthAdjust="spacingAndGlyphs">Total:</text>
<text x="306.5" y="456.2" font-size="20.5" fill="#111" text-anchor="end" font-weight="normal" textLength="91.1" lengthAdjust="spacingAndGlyphs">7047 sqft</text>
<text x="62.8" y="806.0" font-size="20.5" fill="#111" text-anchor="start" font-weight="normal" textLength="85.0" lengthAdjust="spacingAndGlyphs">Auxiliary</text>
<text x="62.8" y="880.0" font-size="20.5" fill="#111" text-anchor="start" font-weight="normal" textLength="74.8" lengthAdjust="spacingAndGlyphs">Garage:</text>
<text x="306.5" y="880.0" font-size="20.5" fill="#111" text-anchor="end" font-weight="normal" textLength="77.89999999999999" lengthAdjust="spacingAndGlyphs">693 sqft</text>
<text x="62.8" y="917.6" font-size="20.5" fill="#111" text-anchor="start" font-weight="normal" textLength="55.8" lengthAdjust="spacingAndGlyphs">Patio:</text>
<text x="306.5" y="917.6" font-size="20.5" fill="#111" text-anchor="end" font-weight="normal" textLength="90.5" lengthAdjust="spacingAndGlyphs">1154 sqft</text>
<text x="62.8" y="955.0" font-size="20.5" fill="#111" text-anchor="start" font-weight="normal" textLength="123.7" lengthAdjust="spacingAndGlyphs">Crawl Space:</text>
<text x="306.5" y="955.0" font-size="20.5" fill="#111" text-anchor="end" font-weight="normal" textLength="79.39999999999999" lengthAdjust="spacingAndGlyphs">964 sqft</text>
<text x="62.8" y="992.0" font-size="20.5" fill="#111" text-anchor="start" font-weight="normal" textLength="82.6" lengthAdjust="spacingAndGlyphs">Balcony:</text>
<text x="306.5" y="992.0" font-size="20.5" fill="#111" text-anchor="end" font-weight="normal" textLength="66.3" lengthAdjust="spacingAndGlyphs">70 sqft</text>
<text x="62.8" y="1029.0" font-size="20.5" fill="#111" text-anchor="start" font-weight="normal" textLength="62.199999999999996" lengthAdjust="spacingAndGlyphs">Porch:</text>
<text x="306.5" y="1029.0" font-size="20.5" fill="#111" text-anchor="end" font-weight="normal" textLength="67.1" lengthAdjust="spacingAndGlyphs">48 sqft</text>
<text x="62.8" y="1066.0" font-size="20.5" fill="#111" text-anchor="start" font-weight="normal" textLength="53.8" lengthAdjust="spacingAndGlyphs">Total:</text>
<text x="306.5" y="1066.0" font-size="20.5" fill="#111" text-anchor="end" font-weight="normal" textLength="91.1" lengthAdjust="spacingAndGlyphs">2929 sqft</text>
<rect x="63.5" y="297.7" width="249.5" height="2.2" fill="#111"/>
<rect x="63.5" y="376.4" width="249.5" height="2.2" fill="#111"/>
<rect x="63.5" y="840.8" width="249.5" height="2.2" fill="#111"/>
<text x="264.6" y="784" font-size="29.3" fill="#111" stroke="#111" stroke-width="0.35" textLength="142.6" lengthAdjust="spacingAndGlyphs">Main Level</text>
<text x="1365.4" y="419.75" font-size="29" fill="#111" stroke="#111" stroke-width="0.35" textLength="157.4" lengthAdjust="spacingAndGlyphs">Upper Level</text>
<text x="788.4" y="1058.9" font-size="29" fill="#111" stroke="#111" stroke-width="0.35" textLength="157.9" lengthAdjust="spacingAndGlyphs">Lower Level</text>
<polygon points="552.6,982.1 626.5,972.4 605.5,995.3 613.4,1025.3" fill="#0b0b0b"/>
<path d="M531.3,971.2 L544.8,974.6 L528.5,981.4 L542.5,984.75" stroke="#111" stroke-width="2.1" fill="none"/>
<text x="50.6" y="1155.0" font-size="11" fill="#222" text-anchor="start" font-weight="normal" textLength="154.4" lengthAdjust="spacingAndGlyphs">Booked on roomvustore.com</text>
<g fill="none" stroke="#1f6aa0" stroke-width="3.2"><path d="M77.9,1185.8 V1178 A8.3,8.3 0 0 1 86.2,1169.7"/><circle cx="95" cy="1177.5" r="6.6"/><circle cx="114.3" cy="1177.5" r="6.6"/><path d="M127.9,1185.8 V1175 A4.35,4.35 0 0 1 136.6,1175 V1185.8 M136.6,1175 A4.35,4.35 0 0 1 145.3,1175 V1185.8"/><path d="M150.4,1169.2 L157.6,1184 L164.9,1169.2" stroke-linejoin="round"/><path d="M171,1169.2 V1178.4 A5.9,5.9 0 0 0 182.8,1178.4 V1169.2"/></g>
<text x="242.0" y="1166.0" font-size="13.2" fill="#333" text-anchor="start" font-weight="normal" textLength="745" lengthAdjust="spacingAndGlyphs">This floorplan is provided without warranty of any kind. The contractor disclaims any warranty including, without limitation,</text>
<text x="242.0" y="1182.5" font-size="13.2" fill="#333" text-anchor="start" font-weight="normal" textLength="678" lengthAdjust="spacingAndGlyphs">satisfactory quality or accuracy of dimensions. Floorplan is for visual marketing purposes and is not guaranteed.</text>
<path fill-rule="evenodd" fill="#000" fill-opacity="0.373" d="M34,10 H187 V167 H34 Z M55.8,29.6 H97 V146.7 H55.8 Z M115,29 H129 A27.7,27.7 0 0 1 129,84.4 H115 Z M115,88.4 L174,146.7 H115 Z"/>
<path fill="#fff" fill-opacity="0.4" d="M55.8,29.6 H97 V146.7 H55.8 Z M115,29 H129 A27.7,27.7 0 0 1 129,84.4 H115 Z M115,88.4 L174,146.7 H115 Z"/>
<text x="33.5" y="202.7" font-size="36" fill="none" stroke="#fff" stroke-opacity="0.75" stroke-width="1.6" textLength="155" lengthAdjust="spacingAndGlyphs">REALTOR</text>
<text x="33.5" y="202.7" font-size="36" fill="#000" fill-opacity="0.2" stroke="#000" stroke-opacity="0.3" stroke-width="0.9" textLength="155" lengthAdjust="spacingAndGlyphs">REALTOR</text>
<circle cx="194" cy="177" r="6.3" fill="none" stroke="#000" stroke-opacity="0.3" stroke-width="1.2"/>
<text x="194" y="180.5" font-size="9" text-anchor="middle" fill="#000" fill-opacity="0.3">R</text>
</svg></body></html>
